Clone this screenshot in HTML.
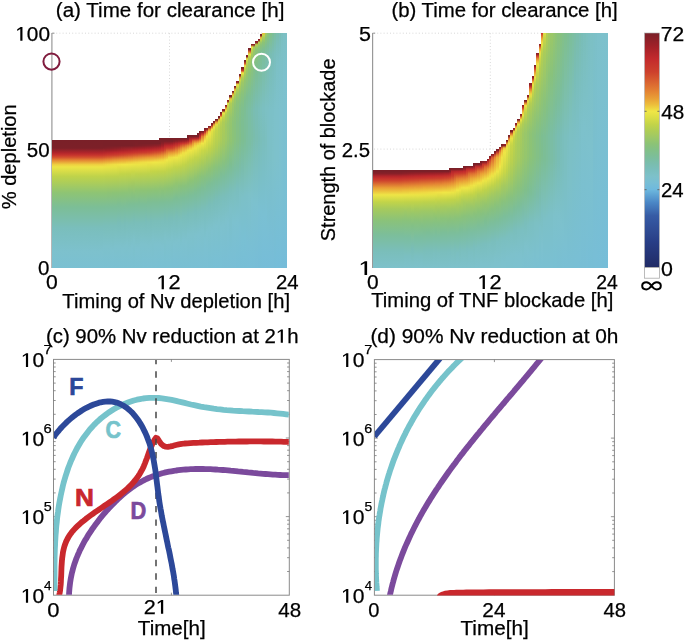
<!DOCTYPE html><html><head><meta charset="utf-8"><style>
html,body{margin:0;padding:0;background:#fff;width:685px;height:641px;overflow:hidden}
#w{position:relative;width:685px;height:641px}
#w i{position:absolute;display:block}
svg{position:absolute;left:0;top:0}
text{font-family:"Liberation Sans",sans-serif}
</style></head><body><div id="w">
<svg width="685" height="641"><line x1="51.9" y1="33" x2="51.9" y2="268" stroke="#999" stroke-width="1.2"/><line x1="372.6" y1="33" x2="372.6" y2="268" stroke="#999" stroke-width="1.2"/><line x1="53" y1="33.2" x2="263" y2="33.2" stroke="#d4d4d4" stroke-width="0.9" stroke-dasharray="1,2.2"/><line x1="169.5" y1="33.2" x2="169.5" y2="137" stroke="#d4d4d4" stroke-width="0.9" stroke-dasharray="1,2.2"/><line x1="374" y1="33.2" x2="542" y2="33.2" stroke="#d4d4d4" stroke-width="0.9" stroke-dasharray="1,2.2"/><line x1="490.3" y1="33.2" x2="490.3" y2="156" stroke="#d4d4d4" stroke-width="0.9" stroke-dasharray="1,2.2"/><line x1="374" y1="149.1" x2="502" y2="149.1" stroke="#d4d4d4" stroke-width="0.9" stroke-dasharray="1,2.2"/><line x1="51.9" y1="33.2" x2="54.5" y2="33.2" stroke="#999" stroke-width="1"/></svg>
<i style="left:52.00px;top:33.0px;width:1.47px;height:235.0px;background:linear-gradient(transparent 106.92px,#7a2028 106.92px,#7c2028 115.15px,#b2252b 119.85px,#c7342d 122.20px,#d4542f 124.55px,#e38033 126.90px,#eed040 131.60px,#ede546 133.95px,#bfd34a 143.35px,#8ec474 159.80px,#7cbe96 173.90px,#7abebc 195.05px,#7dc1cd 218.55px,#7ac0d2 235.00px)"></i><i style="left:53.17px;top:33.0px;width:2.65px;height:235.0px;background:linear-gradient(transparent 106.92px,#7a2028 106.92px,#7c2028 115.15px,#b2252b 119.85px,#c7342d 122.20px,#d4542f 124.55px,#e38033 126.90px,#eed040 131.60px,#ede546 133.95px,#bfd34a 143.35px,#8ec474 159.80px,#7cbe96 173.90px,#7abebc 195.05px,#7dc1cd 218.55px,#7ac0d2 235.00px)"></i><i style="left:55.52px;top:33.0px;width:2.65px;height:235.0px;background:linear-gradient(transparent 106.92px,#7a2028 106.92px,#7c2028 115.15px,#b2252b 119.85px,#c7342d 122.20px,#d4542f 124.55px,#e38033 126.90px,#eed040 131.60px,#ede546 133.95px,#bfd34a 143.35px,#8ec474 159.80px,#7cbe96 173.90px,#7abebc 195.05px,#7dc1cd 218.55px,#7ac0d2 235.00px)"></i><i style="left:57.88px;top:33.0px;width:2.65px;height:235.0px;background:linear-gradient(transparent 106.92px,#7a2028 106.92px,#7c2028 115.15px,#b2252b 119.85px,#c7342d 122.20px,#d4542f 124.55px,#e38033 126.90px,#eed040 131.60px,#ede546 133.95px,#bfd34a 143.35px,#8ec474 159.80px,#7cbe96 173.90px,#7abebc 195.05px,#7dc1cd 218.55px,#7ac0d2 235.00px)"></i><i style="left:60.23px;top:33.0px;width:2.65px;height:235.0px;background:linear-gradient(transparent 106.92px,#7a2028 106.92px,#7c2028 115.15px,#b2252b 119.85px,#c7342d 122.20px,#d4542f 124.55px,#e38033 126.90px,#eed040 131.60px,#ede546 133.95px,#bfd34a 143.35px,#8ec474 159.80px,#7cbe96 173.90px,#7abebc 195.05px,#7dc1cd 218.55px,#7ac0d2 235.00px)"></i><i style="left:62.58px;top:33.0px;width:2.65px;height:235.0px;background:linear-gradient(transparent 106.92px,#7a2028 106.92px,#7c2028 115.15px,#b2252b 119.85px,#c7342d 122.20px,#d4542f 124.55px,#e38033 126.90px,#eed040 131.60px,#ede546 133.95px,#bfd34a 143.35px,#8ec474 159.80px,#7cbe96 173.90px,#7abebc 195.05px,#7dc1cd 218.55px,#7ac0d2 235.00px)"></i><i style="left:64.92px;top:33.0px;width:2.65px;height:235.0px;background:linear-gradient(transparent 106.92px,#7a2028 106.92px,#7c2028 115.15px,#b2252b 119.85px,#c7342d 122.20px,#d4542f 124.55px,#e38033 126.90px,#eed040 131.60px,#ede546 133.95px,#bfd34a 143.35px,#8ec474 159.80px,#7cbe96 173.90px,#7abebc 195.05px,#7dc1cd 218.55px,#7ac0d2 235.00px)"></i><i style="left:67.28px;top:33.0px;width:2.65px;height:235.0px;background:linear-gradient(transparent 106.92px,#7a2028 106.92px,#7c2028 115.15px,#b2252b 119.85px,#c7342d 122.20px,#d4542f 124.55px,#e38033 126.90px,#eed040 131.60px,#ede546 133.95px,#bfd34a 143.35px,#8ec474 159.80px,#7cbe96 173.90px,#7abebc 195.05px,#7dc1cd 218.55px,#7ac0d2 235.00px)"></i><i style="left:69.62px;top:33.0px;width:2.65px;height:235.0px;background:linear-gradient(transparent 106.92px,#7a2028 106.92px,#7c2028 115.15px,#b2252b 119.85px,#c7342d 122.20px,#d4542f 124.55px,#e38033 126.90px,#eed040 131.60px,#ede546 133.95px,#bfd34a 143.35px,#8ec474 159.80px,#7cbe96 173.90px,#7abebc 195.05px,#7dc1cd 218.55px,#7ac0d2 235.00px)"></i><i style="left:71.97px;top:33.0px;width:2.65px;height:235.0px;background:linear-gradient(transparent 106.92px,#7a2028 106.92px,#7c2028 115.15px,#b2252b 119.85px,#c7342d 122.20px,#d4542f 124.55px,#e38033 126.90px,#eed040 131.60px,#ede546 133.95px,#bfd34a 143.35px,#8ec474 159.80px,#7cbe96 173.90px,#7abebc 195.05px,#7dc1cd 218.55px,#7ac0d2 235.00px)"></i><i style="left:74.33px;top:33.0px;width:2.65px;height:235.0px;background:linear-gradient(transparent 106.92px,#7a2028 106.92px,#7c2028 115.15px,#b2252b 119.85px,#c7342d 122.20px,#d4542f 124.55px,#e38033 126.90px,#eed040 131.60px,#ede546 133.95px,#bfd34a 143.35px,#8ec474 159.80px,#7cbe96 173.90px,#7abebc 195.05px,#7dc1cd 218.55px,#7ac0d2 235.00px)"></i><i style="left:76.67px;top:33.0px;width:2.65px;height:235.0px;background:linear-gradient(transparent 106.92px,#7a2028 106.92px,#7c2028 115.15px,#b2252b 119.85px,#c7342d 122.20px,#d4542f 124.55px,#e38033 126.90px,#eed040 131.60px,#ede546 133.95px,#bfd34a 143.35px,#8ec474 159.80px,#7cbe96 173.90px,#7abebc 195.05px,#7dc1cd 218.55px,#7ac0d2 235.00px)"></i><i style="left:79.03px;top:33.0px;width:2.65px;height:235.0px;background:linear-gradient(transparent 106.92px,#7a2028 106.92px,#7c2028 115.15px,#b2252b 119.85px,#c7342d 122.20px,#d4542f 124.55px,#e38033 126.90px,#eed040 131.60px,#ede546 133.95px,#bfd34a 143.35px,#8ec474 159.80px,#7cbe96 173.90px,#7abebc 195.05px,#7dc1cd 218.55px,#7ac0d2 235.00px)"></i><i style="left:81.38px;top:33.0px;width:2.65px;height:235.0px;background:linear-gradient(transparent 106.92px,#7a2028 106.92px,#7c2028 115.15px,#b2252b 119.85px,#c7342d 122.20px,#d4542f 124.55px,#e38033 126.90px,#eed040 131.60px,#ede546 133.95px,#bfd34a 143.35px,#8ec474 159.80px,#7cbe96 173.90px,#7abebc 195.05px,#7dc1cd 218.55px,#7ac0d2 235.00px)"></i><i style="left:83.72px;top:33.0px;width:2.65px;height:235.0px;background:linear-gradient(transparent 106.92px,#7a2028 106.92px,#7c2028 115.15px,#b2252b 119.85px,#c7342d 122.20px,#d4542f 124.55px,#e38033 126.90px,#eed040 131.60px,#ede546 133.95px,#bfd34a 143.35px,#8ec474 159.80px,#7cbe96 173.90px,#7abebc 195.05px,#7dc1cd 218.55px,#7ac0d2 235.00px)"></i><i style="left:86.08px;top:33.0px;width:2.65px;height:235.0px;background:linear-gradient(transparent 106.92px,#7a2028 106.92px,#7c2028 115.15px,#b2252b 119.85px,#c7342d 122.20px,#d4542f 124.55px,#e38033 126.90px,#eed040 131.60px,#ede546 133.95px,#bfd34a 143.35px,#8ec474 159.80px,#7cbe96 173.90px,#7abebc 195.05px,#7dc1cd 218.55px,#7ac0d2 235.00px)"></i><i style="left:88.43px;top:33.0px;width:2.65px;height:235.0px;background:linear-gradient(transparent 106.92px,#7a2028 106.92px,#7c2028 115.15px,#b2252b 119.85px,#c7342d 122.20px,#d4542f 124.55px,#e38033 126.90px,#eed040 131.60px,#ede546 133.95px,#bfd34a 143.35px,#8ec474 159.80px,#7cbe96 173.90px,#7abebc 195.05px,#7dc1cd 218.55px,#7ac0d2 235.00px)"></i><i style="left:90.78px;top:33.0px;width:2.65px;height:235.0px;background:linear-gradient(transparent 106.92px,#7a2028 106.92px,#7c2028 115.15px,#b2252b 119.85px,#c7342d 122.20px,#d4542f 124.55px,#e38033 126.90px,#eed040 131.60px,#ede546 133.95px,#bfd34a 143.35px,#8ec474 159.80px,#7cbe96 173.90px,#7abebc 195.05px,#7dc1cd 218.55px,#7ac0d2 235.00px)"></i><i style="left:93.12px;top:33.0px;width:2.65px;height:235.0px;background:linear-gradient(transparent 106.92px,#7a2028 106.92px,#7c2028 115.15px,#b2252b 119.85px,#c7342d 122.20px,#d4542f 124.55px,#e38033 126.90px,#eed040 131.60px,#ede546 133.95px,#bfd34a 143.35px,#8ec474 159.80px,#7cbe96 173.90px,#7abebc 195.05px,#7dc1cd 218.55px,#7ac0d2 235.00px)"></i><i style="left:95.47px;top:33.0px;width:2.65px;height:235.0px;background:linear-gradient(transparent 106.92px,#7a2028 106.92px,#7c2028 115.15px,#b2252b 119.85px,#c7342d 122.20px,#d4542f 124.55px,#e38033 126.90px,#eed040 131.60px,#ede546 133.95px,#bfd34a 143.35px,#8ec474 159.80px,#7cbe96 173.90px,#7abebc 195.05px,#7dc1cd 218.55px,#7ac0d2 235.00px)"></i><i style="left:97.83px;top:33.0px;width:2.65px;height:235.0px;background:linear-gradient(transparent 106.92px,#7a2028 106.92px,#7c2028 115.15px,#b2252b 119.85px,#c7342d 122.20px,#d4542f 124.55px,#e38033 126.90px,#eed040 131.60px,#ede546 133.95px,#bfd34a 143.35px,#8ec474 159.80px,#7cbe96 173.90px,#7abebc 195.05px,#7dc1cd 218.55px,#7ac0d2 235.00px)"></i><i style="left:100.18px;top:33.0px;width:2.65px;height:235.0px;background:linear-gradient(transparent 106.92px,#7a2028 106.92px,#7d2028 115.15px,#b3252b 119.85px,#c7342d 122.20px,#d4552f 124.55px,#e38133 126.90px,#eed041 131.60px,#ede546 133.95px,#bfd34a 143.35px,#8ec474 159.80px,#7cbe96 173.90px,#7abebc 195.05px,#7dc1cd 218.55px,#7ac0d2 235.00px)"></i><i style="left:102.53px;top:33.0px;width:2.65px;height:235.0px;background:linear-gradient(transparent 106.92px,#7a2028 106.92px,#7a2028 112.80px,#7f2028 115.15px,#b6262b 119.85px,#c8362d 122.20px,#d5582f 124.55px,#e48533 126.90px,#eed341 131.60px,#ece445 133.95px,#bfd34b 143.35px,#8ec474 159.80px,#7cbe96 173.90px,#7abeb9 192.70px,#7dc1cb 213.85px,#7ac0d2 235.00px)"></i><i style="left:104.88px;top:33.0px;width:2.65px;height:235.0px;background:linear-gradient(transparent 106.92px,#7a2028 106.92px,#7a2028 112.80px,#812028 115.15px,#9b2028 117.50px,#b8272b 119.85px,#c9382d 122.20px,#d75c2f 124.55px,#e48934 126.90px,#efd642 131.60px,#ebe445 133.95px,#bed24b 143.35px,#8ec474 159.80px,#7cbe97 173.90px,#7abeb9 192.70px,#7dc1cb 213.85px,#7ac0d2 235.00px)"></i><i style="left:107.22px;top:33.0px;width:2.65px;height:235.0px;background:linear-gradient(transparent 106.92px,#7a2028 106.92px,#7a2028 112.80px,#832028 115.15px,#9d2028 117.50px,#ba282c 119.85px,#ca3a2d 122.20px,#d85f30 124.55px,#e58c34 126.90px,#efd943 131.60px,#eae445 133.95px,#bed24b 143.35px,#8dc375 159.80px,#7cbe97 173.90px,#7abeb9 192.70px,#7dc1cb 213.85px,#7ac0d2 235.00px)"></i><i style="left:109.58px;top:33.0px;width:2.65px;height:235.0px;background:linear-gradient(transparent 106.92px,#7a2028 106.92px,#7a2028 112.80px,#852028 115.15px,#9f2028 117.50px,#bd282c 119.85px,#cb3c2d 122.20px,#d96330 124.55px,#e69034 126.90px,#efdc44 131.60px,#e9e345 133.95px,#bdd24c 143.35px,#8dc375 159.80px,#7cbe98 173.90px,#7abeba 192.70px,#7dc1cd 216.20px,#7ac0d2 235.00px)"></i><i style="left:111.93px;top:33.0px;width:2.65px;height:235.0px;background:linear-gradient(transparent 106.92px,#7a2028 106.92px,#7a2028 112.80px,#872028 115.15px,#a12028 117.50px,#bf292c 119.85px,#cb3d2d 122.20px,#e79435 126.90px,#efde44 131.60px,#e8e345 133.95px,#bdd24c 143.35px,#8cc376 159.80px,#7cbe98 173.90px,#7abeba 192.70px,#7dc1ce 218.55px,#7ac0d2 235.00px)"></i><i style="left:114.28px;top:33.0px;width:2.65px;height:235.0px;background:linear-gradient(transparent 106.92px,#7a2028 106.92px,#7a2028 112.80px,#892028 115.15px,#a32128 117.50px,#c22a2d 119.85px,#cc3f2d 122.20px,#e79835 126.90px,#efe044 131.60px,#e8e345 133.95px,#bcd24c 143.35px,#8cc376 159.80px,#7cbe98 173.90px,#7abeba 192.70px,#7dc1cc 213.85px,#7ac0d2 235.00px)"></i><i style="left:116.62px;top:33.0px;width:2.65px;height:235.0px;background:linear-gradient(transparent 106.92px,#7a2028 106.92px,#7a2028 112.80px,#8b2028 115.15px,#a62229 117.50px,#c32b2d 119.85px,#cd412d 122.20px,#e89b36 126.90px,#f0e145 131.60px,#dbde45 136.30px,#bcd14d 143.35px,#8cc376 159.80px,#7dbe94 171.55px,#79bdb8 190.35px,#7dc1cc 213.85px,#7ac0d2 235.00px)"></i><i style="left:118.98px;top:33.0px;width:2.65px;height:235.0px;background:linear-gradient(transparent 106.92px,#7a2028 106.92px,#7a2028 112.80px,#8d2028 115.15px,#a82229 117.50px,#c42d2d 119.85px,#ce452d 122.20px,#e99e36 126.90px,#f0e345 131.60px,#c3d448 141.00px,#8cc377 159.80px,#7dbe94 171.55px,#79bdb8 190.35px,#7dc1cc 213.85px,#7ac0d2 235.00px)"></i><i style="left:121.33px;top:33.0px;width:2.65px;height:235.0px;background:linear-gradient(transparent 106.92px,#7a2028 106.92px,#7a2028 112.80px,#aa2329 117.50px,#c52e2d 119.85px,#d0482e 122.20px,#e9a036 126.90px,#f0e546 131.60px,#c2d448 141.00px,#8bc377 159.80px,#7cbe99 173.90px,#7abebb 192.70px,#7dc1cd 216.20px,#7ac0d2 235.00px)"></i><i style="left:123.67px;top:33.0px;width:2.65px;height:235.0px;background:linear-gradient(transparent 106.92px,#7a2028 106.92px,#7a2028 112.80px,#ad242a 117.50px,#c6302d 119.85px,#d14c2e 122.20px,#e17732 124.55px,#e9a236 126.90px,#f0e646 131.60px,#c2d449 141.00px,#8bc378 159.80px,#7cbe9a 173.90px,#79bdb8 190.35px,#7dc1cc 213.85px,#7ac0d2 235.00px)"></i><i style="left:126.03px;top:33.0px;width:2.65px;height:235.0px;background:linear-gradient(transparent 106.92px,#7a2028 106.92px,#7a2028 112.80px,#af242a 117.50px,#c6322d 119.85px,#d24f2e 122.20px,#eaa436 126.90px,#eec93f 129.25px,#efe646 131.60px,#c1d349 141.00px,#8bc378 159.80px,#7dbe95 171.55px,#7abeb9 190.35px,#7dc1cb 211.50px,#7ac0d2 235.00px)"></i><i style="left:128.38px;top:33.0px;width:2.65px;height:235.0px;background:linear-gradient(transparent 106.92px,#7a2028 106.92px,#7a2028 112.80px,#b2252b 117.50px,#c7332d 119.85px,#d3532f 122.20px,#e27e33 124.55px,#eecc40 129.25px,#eee546 131.60px,#c1d349 141.00px,#8fc473 157.45px,#7cbe96 171.55px,#7abebc 192.70px,#7dc1cd 216.20px,#7ac0d2 235.00px)"></i><i style="left:130.73px;top:33.0px;width:2.65px;height:235.0px;background:linear-gradient(transparent 106.92px,#7a2028 106.92px,#7a2028 112.80px,#b4262b 117.50px,#c8352d 119.85px,#d5562f 122.20px,#eba837 126.90px,#eecf40 129.25px,#ede546 131.60px,#cad747 138.65px,#a3c961 150.40px,#8ac279 159.80px,#7cbe96 171.55px,#7abeb9 190.35px,#7dc1cd 213.85px,#7ac0d2 235.00px)"></i><i style="left:133.07px;top:33.0px;width:2.65px;height:235.0px;background:linear-gradient(transparent 106.92px,#7a2028 106.92px,#7c2028 112.80px,#992028 115.15px,#b7272b 117.50px,#c9372d 119.85px,#d65a2f 122.20px,#e48633 124.55px,#eed241 129.25px,#ece546 131.60px,#cad747 138.65px,#a2c961 150.40px,#87c17f 162.15px,#7cbe96 171.55px,#79bdb6 188.00px,#7dc1c9 206.80px,#7ac0d2 235.00px)"></i><i style="left:135.43px;top:33.0px;width:2.65px;height:235.0px;background:linear-gradient(transparent 106.92px,#7a2028 106.92px,#7e2028 112.80px,#9b2028 115.15px,#b9272c 117.50px,#ca392d 119.85px,#d75d30 122.20px,#e48934 124.55px,#efd542 129.25px,#ebe445 131.60px,#bfd34b 141.00px,#8ec474 157.45px,#7cbe97 171.55px,#7abeba 190.35px,#7dc1ce 216.20px,#7ac0d2 235.00px)"></i><i style="left:137.78px;top:33.0px;width:2.65px;height:235.0px;background:linear-gradient(transparent 106.92px,#7a2028 106.92px,#7a2028 110.45px,#802028 112.80px,#9d2028 115.15px,#bc282c 117.50px,#ca3b2d 119.85px,#e58d34 124.55px,#efd843 129.25px,#ebe445 131.60px,#bfd24b 141.00px,#8ec474 157.45px,#7dbe92 169.20px,#7abeba 190.35px,#7dc1ce 216.20px,#7ac0d2 235.00px)"></i><i style="left:140.12px;top:33.0px;width:2.65px;height:235.0px;background:linear-gradient(transparent 106.92px,#7a2028 106.92px,#7a2028 110.45px,#812028 112.80px,#9f2028 115.15px,#be292c 117.50px,#cb3d2d 119.85px,#e69135 124.55px,#efdb43 129.25px,#eae445 131.60px,#bed24b 141.00px,#8dc375 157.45px,#7cbe98 171.55px,#7abeba 190.35px,#7dc1cc 211.50px,#7ac0d2 235.00px)"></i><i style="left:142.48px;top:33.0px;width:2.65px;height:235.0px;background:linear-gradient(transparent 106.92px,#7a2028 106.92px,#7a2028 110.45px,#832028 112.80px,#a12028 115.15px,#c1292d 117.50px,#cc3f2d 119.85px,#e79535 124.55px,#efdd44 129.25px,#e9e345 131.60px,#bed24c 141.00px,#8dc375 157.45px,#7cbe98 171.55px,#7abeba 190.35px,#7dc1cc 211.50px,#7ac0d3 235.00px)"></i><i style="left:144.82px;top:33.0px;width:2.65px;height:235.0px;background:linear-gradient(transparent 106.92px,#7a2028 106.92px,#7a2028 110.45px,#852028 112.80px,#a32128 115.15px,#c32a2d 117.50px,#cd402d 119.85px,#e89935 124.55px,#efdf44 129.25px,#e8e345 131.60px,#bdd24c 141.00px,#8dc375 157.45px,#7cbe98 171.55px,#79bdb8 188.00px,#7dc1cc 211.50px,#7ac0d3 235.00px)"></i><i style="left:147.18px;top:33.0px;width:2.65px;height:235.0px;background:linear-gradient(transparent 106.92px,#7a2028 106.92px,#7a2028 110.45px,#872028 112.80px,#a52129 115.15px,#c42c2d 117.50px,#ce442d 119.85px,#de6e31 122.20px,#e89c36 124.55px,#f0e145 129.25px,#dcde45 133.95px,#bcd24c 141.00px,#8cc376 157.45px,#7dbe94 169.20px,#7abebb 190.35px,#7dc1cd 213.85px,#7ac0d3 235.00px)"></i><i style="left:149.53px;top:33.0px;width:2.65px;height:235.0px;background:linear-gradient(transparent 106.92px,#7a2028 106.92px,#7a2028 110.45px,#892028 112.80px,#a82229 115.15px,#c42d2d 117.50px,#cf472e 119.85px,#df7231 122.20px,#e99f36 124.55px,#f0e345 129.25px,#c4d448 138.65px,#8cc376 157.45px,#7dbe94 169.20px,#79bdb8 188.00px,#7dc1cc 211.50px,#7ac0d3 235.00px)"></i><i style="left:151.88px;top:33.0px;width:2.65px;height:235.0px;background:linear-gradient(transparent 106.92px,#7a2028 106.92px,#7a2028 110.45px,#8b2028 112.80px,#ab232a 115.15px,#c5302d 117.50px,#d14c2e 119.85px,#e07632 122.20px,#e9a136 124.55px,#f0e546 129.25px,#c3d448 138.65px,#8cc377 157.45px,#7dbe95 169.20px,#7abeb8 188.00px,#7dc1ca 206.80px,#7ac0d3 235.00px)"></i><i style="left:154.23px;top:33.0px;width:2.65px;height:235.0px;background:linear-gradient(transparent 106.92px,#7a2028 106.92px,#7a2028 110.45px,#8e2028 112.80px,#ae242a 115.15px,#c6322d 117.50px,#d3512e 119.85px,#e27b32 122.20px,#eec83f 126.90px,#efe646 129.25px,#c2d448 138.65px,#8bc377 157.45px,#7dbe95 169.20px,#7abeb9 188.00px,#7dc1cd 211.50px,#7ac0d3 235.00px)"></i><i style="left:156.57px;top:33.0px;width:2.65px;height:235.0px;background:linear-gradient(transparent 106.92px,#7a2028 106.92px,#7a2028 110.45px,#902028 112.80px,#b1252a 115.15px,#c8352d 117.50px,#d4562f 119.85px,#e38133 122.20px,#eecc40 126.90px,#eee546 129.25px,#c1d349 138.65px,#8bc378 157.45px,#7dbe95 169.20px,#7abeb9 188.00px,#7dc1cd 211.50px,#79c0d3 235.00px)"></i><i style="left:158.93px;top:33.0px;width:2.65px;height:235.0px;background:linear-gradient(transparent 104.58px,#7a2028 104.58px,#7a2028 110.45px,#942028 112.80px,#b5262b 115.15px,#c9372d 117.50px,#d65a2f 119.85px,#e48633 122.20px,#ebaa37 124.55px,#eed141 126.90px,#ede546 129.25px,#c1d34a 138.65px,#90c473 155.10px,#7cbe96 169.20px,#7abeb9 188.00px,#7dc1cd 211.50px,#79c0d3 235.00px)"></i><i style="left:161.28px;top:33.0px;width:2.65px;height:235.0px;background:linear-gradient(transparent 104.58px,#7a2028 104.58px,#7a2028 108.10px,#8a2028 110.45px,#a22128 112.80px,#c0292d 115.15px,#cb3d2d 117.50px,#e58e34 122.20px,#ebb038 124.55px,#efd642 126.90px,#ece445 129.25px,#c0d34a 138.65px,#8ac279 157.45px,#7cbe96 169.20px,#7abeba 188.00px,#7dc1ce 213.85px,#79c0d3 235.00px)"></i><i style="left:163.62px;top:33.0px;width:2.65px;height:235.0px;background:linear-gradient(transparent 104.58px,#7a2028 104.58px,#7a2028 108.10px,#992028 110.45px,#b9272c 112.80px,#c7342d 115.15px,#d14d2e 117.50px,#e89d36 122.20px,#efde44 126.90px,#e9e345 129.25px,#bfd24b 138.65px,#8ec474 155.10px,#7cbe97 169.20px,#79bdb7 185.65px,#7dc1c9 204.45px,#79c0d3 235.00px)"></i><i style="left:165.98px;top:33.0px;width:2.65px;height:235.0px;background:linear-gradient(transparent 104.58px,#7a2028 104.58px,#7a2028 108.10px,#9a2028 110.45px,#bd282c 112.80px,#cb3d2d 115.15px,#db6730 117.50px,#eba837 122.20px,#f0e646 126.90px,#c5d548 136.30px,#8dc375 155.10px,#7cbe98 169.20px,#7abeba 188.00px,#7dc1cc 209.15px,#79c0d3 235.00px)"></i><i style="left:168.32px;top:33.0px;width:2.65px;height:235.0px;background:linear-gradient(transparent 104.58px,#7a2028 104.58px,#7a2028 108.10px,#9b2028 110.45px,#be292c 112.80px,#cc3e2d 115.15px,#e79735 119.85px,#efdd44 124.55px,#ebe445 126.90px,#c2d449 136.30px,#8cc376 155.10px,#7cbe98 169.20px,#79bdb8 185.65px,#7dc1cc 209.15px,#79c0d3 235.00px)"></i><i style="left:170.68px;top:33.0px;width:2.65px;height:235.0px;background:linear-gradient(transparent 104.58px,#7a2028 104.58px,#7a2028 108.10px,#9f2028 110.45px,#c22a2d 112.80px,#cd412d 115.15px,#e89a35 119.85px,#efdf44 124.55px,#e8e345 126.90px,#bfd34b 136.30px,#8bc377 155.10px,#7cbe99 169.20px,#79bdb8 185.65px,#7dc1ca 204.45px,#79bfd3 235.00px)"></i><i style="left:173.03px;top:33.0px;width:2.65px;height:235.0px;background:linear-gradient(transparent 104.58px,#7a2028 104.58px,#802028 108.10px,#a92329 110.45px,#c6312d 112.80px,#d14d2e 115.15px,#e07632 117.50px,#e9a136 119.85px,#f0e345 124.55px,#c4d548 133.95px,#8fc474 152.75px,#7cbe96 166.85px,#7abebc 188.00px,#7dc1ce 211.50px,#79bfd3 235.00px)"></i><i style="left:175.38px;top:33.0px;width:2.65px;height:235.0px;background:linear-gradient(transparent 104.58px,#7a2028 104.58px,#7a2028 105.75px,#872028 108.10px,#b4262b 110.45px,#ca3a2d 112.80px,#e48834 117.50px,#eba937 119.85px,#eecd40 122.20px,#efe546 124.55px,#c3d448 133.95px,#92c570 150.40px,#7dbe92 164.50px,#79bdb7 183.30px,#7dc1cd 209.15px,#79bfd3 235.00px)"></i><i style="left:177.73px;top:33.0px;width:2.65px;height:235.0px;background:linear-gradient(transparent 104.58px,#7a2028 104.58px,#7a2028 105.75px,#8e2028 108.10px,#bf292c 110.45px,#cf462d 112.80px,#e99e36 117.50px,#ecba3b 119.85px,#efdd44 122.20px,#eae445 124.55px,#c1d34a 133.95px,#8bc378 152.75px,#7cbe98 166.85px,#7abeba 185.65px,#7dc1cc 206.80px,#79bfd3 235.00px)"></i><i style="left:180.08px;top:33.0px;width:2.65px;height:235.0px;background:linear-gradient(transparent 104.58px,#7a2028 104.58px,#7a2028 105.75px,#952028 108.10px,#c52f2d 110.45px,#e48834 115.15px,#eecd40 119.85px,#efe646 122.20px,#bed24b 133.95px,#8ac279 152.75px,#7dbe96 164.50px,#7bbfbe 188.00px,#7cc1cf 213.85px,#79bfd3 235.00px)"></i><i style="left:182.43px;top:33.0px;width:2.65px;height:235.0px;background:linear-gradient(transparent 104.58px,#7a2028 104.58px,#7a2028 105.75px,#9c2028 108.10px,#c9372d 110.45px,#e99e36 115.15px,#efdf44 119.85px,#eae345 122.20px,#c2d449 131.60px,#89c27b 152.75px,#7cbe97 164.50px,#7abeb9 183.30px,#7dc1cd 206.80px,#79bfd3 235.00px)"></i><i style="left:184.78px;top:33.0px;width:2.65px;height:235.0px;background:linear-gradient(transparent 104.58px,#7a2028 104.58px,#7a2028 105.75px,#a32128 108.10px,#cc3f2d 110.45px,#e27d32 112.80px,#eecf40 117.50px,#eee546 119.85px,#bed24b 131.60px,#88c27d 152.75px,#7cbe99 164.50px,#7abeba 183.30px,#7dc1ce 209.15px,#79bfd3 235.00px)"></i><i style="left:187.12px;top:33.0px;width:2.65px;height:235.0px;background:linear-gradient(transparent 102.23px,#7a2028 102.23px,#7a2028 105.75px,#af242a 108.10px,#d14d2e 110.45px,#e69135 112.80px,#efe044 117.50px,#e9e345 119.85px,#c1d349 129.25px,#8ac279 150.40px,#7dbe95 162.15px,#79bdb8 180.95px,#7dc1cb 202.10px,#79bfd3 235.00px)"></i><i style="left:189.47px;top:33.0px;width:2.65px;height:235.0px;background:linear-gradient(transparent 102.23px,#7a2028 102.23px,#7a2028 103.40px,#b2252b 105.75px,#c9372d 108.10px,#dc6a31 110.45px,#e9a236 112.80px,#eecc3f 115.15px,#eee546 117.50px,#c4d548 126.90px,#8cc376 148.05px,#7cbe97 162.15px,#7abeb9 180.95px,#7dc1cb 202.10px,#79bfd4 235.00px)"></i><i style="left:191.83px;top:33.0px;width:2.65px;height:235.0px;background:linear-gradient(transparent 102.23px,#7a2028 102.23px,#7a2028 103.40px,#b9272c 105.75px,#db6831 108.10px,#e79735 110.45px,#efde44 115.15px,#e9e345 117.50px,#c0d34a 126.90px,#8bc378 148.05px,#7cbe99 162.15px,#7abeba 180.95px,#7dc1ca 199.75px,#79bfd4 235.00px)"></i><i style="left:194.18px;top:33.0px;width:2.65px;height:235.0px;background:linear-gradient(transparent 102.23px,#7a2028 102.23px,#7a2028 103.40px,#c0292d 105.75px,#e07532 108.10px,#ecb73a 110.45px,#efd842 112.80px,#ede546 115.15px,#c3d448 124.55px,#8cc376 145.70px,#7cbe96 159.80px,#79bdb8 178.60px,#7dc1cc 202.10px,#79bfd4 235.00px)"></i><i style="left:196.53px;top:33.0px;width:2.65px;height:235.0px;background:linear-gradient(transparent 99.88px,#7a2028 99.88px,#7a2028 103.40px,#c42d2d 105.75px,#e38333 108.10px,#edc53e 110.45px,#ece546 112.80px,#c0d34a 124.55px,#8ec374 143.35px,#7dbe94 157.45px,#7abeb9 178.60px,#7dc1cd 202.10px,#79bfd4 235.00px)"></i><i style="left:198.88px;top:33.0px;width:2.65px;height:235.0px;background:linear-gradient(transparent 97.53px,#7a2028 97.53px,#7a2028 98.70px,#9c2028 101.05px,#c0292d 103.40px,#d3522f 105.75px,#e99f36 108.10px,#efd542 110.45px,#e8e345 112.80px,#d3da46 117.50px,#b5cf51 126.90px,#8bc377 143.35px,#7cbe96 157.45px,#7abeba 178.60px,#7dc1cc 199.75px,#79bfd4 235.00px)"></i><i style="left:201.22px;top:33.0px;width:2.65px;height:235.0px;background:linear-gradient(transparent 97.53px,#7a2028 97.53px,#7a2028 98.70px,#c7332d 101.05px,#e17832 103.40px,#efe646 110.45px,#cad747 117.50px,#aacc59 129.25px,#89c27b 143.35px,#7dbe95 155.10px,#7abeb9 176.25px,#7dc1cb 197.40px,#79bfd4 235.00px)"></i><i style="left:203.58px;top:33.0px;width:2.65px;height:235.0px;background:linear-gradient(transparent 95.17px,#7a2028 95.17px,#7a2028 96.35px,#bb282c 98.70px,#e07532 101.05px,#ecb239 103.40px,#eed141 105.75px,#f0e646 108.10px,#c5d548 117.50px,#9bc768 133.95px,#84c084 145.70px,#7bbea0 159.80px,#7abebd 178.60px,#7cc1cf 206.80px,#79bfd4 235.00px)"></i><i style="left:205.93px;top:33.0px;width:2.65px;height:235.0px;background:linear-gradient(transparent 95.17px,#8d2028 95.17px,#8d2028 96.35px,#e38033 98.70px,#ecba3b 101.05px,#f0e245 103.40px,#d2da46 112.80px,#accc57 124.55px,#89c27c 141.00px,#7cbe96 152.75px,#7abeb9 173.90px,#7dc1cd 199.75px,#79bfd4 235.00px)"></i><i style="left:208.28px;top:33.0px;width:2.65px;height:235.0px;background:linear-gradient(transparent 92.83px,#8d2028 92.83px,#8d2028 94.00px,#e38333 96.35px,#efd943 98.70px,#ece445 101.05px,#c1d349 115.15px,#8ec374 136.30px,#7dbe94 150.40px,#79bdb8 171.55px,#7dc1cb 195.05px,#78bfd4 235.00px)"></i><i style="left:210.62px;top:33.0px;width:2.65px;height:235.0px;background:linear-gradient(transparent 90.48px,#832028 90.48px,#832028 91.65px,#df7332 94.00px,#f0e145 96.35px,#e1e044 98.70px,#bbd14d 115.15px,#8fc473 133.95px,#7cbe97 150.40px,#7abeb9 171.55px,#7dc1cd 197.40px,#78bfd4 235.00px)"></i><i style="left:212.97px;top:33.0px;width:2.65px;height:235.0px;background:linear-gradient(transparent 88.12px,#7a2028 88.12px,#7a2028 89.30px,#e79535 91.65px,#ebe445 94.00px,#cfd946 98.70px,#b5cf51 115.15px,#8bc377 133.95px,#7dbe95 148.05px,#79bdb8 169.20px,#7dc1cb 192.70px,#78bfd5 235.00px)"></i><i style="left:215.33px;top:33.0px;width:2.65px;height:235.0px;background:linear-gradient(transparent 85.78px,#7a2028 85.78px,#7a2028 86.95px,#e9a136 89.30px,#e1e044 91.65px,#cfd946 94.00px,#c5d548 96.35px,#b2ce53 112.80px,#89c27c 133.95px,#7cbe98 148.05px,#79bdb8 166.85px,#7dc1cc 192.70px,#78bfd5 235.00px)"></i><i style="left:217.68px;top:33.0px;width:2.65px;height:235.0px;background:linear-gradient(transparent 83.42px,#7b2028 83.42px,#7b2028 84.60px,#edbd3c 86.95px,#d7dc45 89.30px,#c3d448 91.65px,#b9d14e 96.35px,#b5cf51 105.75px,#9bc768 122.20px,#86c180 133.95px,#7cbe9b 148.05px,#79bdb7 164.50px,#7dc1ca 188.00px,#78bfd5 235.00px)"></i><i style="left:220.03px;top:33.0px;width:2.65px;height:235.0px;background:linear-gradient(transparent 78.73px,#7a2028 78.73px,#7a2028 79.90px,#cd402d 82.25px,#efdb43 84.60px,#cdd847 86.95px,#bcd14d 89.30px,#b1ce54 94.00px,#adcc57 105.75px,#91c571 124.55px,#7dbe93 141.00px,#7abeb9 164.50px,#7dc1ce 195.05px,#78bfd5 235.00px)"></i><i style="left:222.38px;top:33.0px;width:2.65px;height:235.0px;background:linear-gradient(transparent 76.38px,#852028 76.38px,#852028 77.55px,#efe646 79.90px,#d2da46 82.25px,#c0d34a 84.60px,#adcc57 89.30px,#aacb5a 96.35px,#a1c962 110.45px,#85c183 131.60px,#7cbe9a 143.35px,#7abebb 164.50px,#7dc1cd 192.70px,#78bed5 235.00px)"></i><i style="left:224.72px;top:33.0px;width:2.65px;height:235.0px;background:linear-gradient(transparent 71.67px,#8d2028 71.67px,#8d2028 72.85px,#e9a036 75.20px,#e5e245 77.55px,#bed24b 79.90px,#b2ce53 82.25px,#a0c963 91.65px,#9fc964 105.75px,#87c17f 126.90px,#7cbe9a 141.00px,#7abeba 162.15px,#7dc1cc 188.00px,#78bed5 235.00px)"></i><i style="left:227.08px;top:33.0px;width:2.65px;height:235.0px;background:linear-gradient(transparent 66.98px,#8d2028 66.98px,#8d2028 68.15px,#e0df44 70.50px,#c8d647 72.85px,#a9cb5a 79.90px,#99c76a 91.65px,#98c66b 105.75px,#86c180 124.55px,#7cbe99 138.65px,#7abebc 162.15px,#7dc1ce 190.35px,#78bed5 235.00px)"></i><i style="left:229.43px;top:33.0px;width:2.65px;height:235.0px;background:linear-gradient(transparent 62.28px,#7a2028 62.28px,#7a2028 63.45px,#edc43d 65.80px,#c8d647 68.15px,#afcd55 70.50px,#96c66d 84.60px,#93c56f 94.00px,#90c472 108.10px,#7dbe91 131.60px,#7abeb9 157.45px,#7cc0c8 176.25px,#79bfd4 223.25px,#78bed5 235.00px)"></i><i style="left:231.78px;top:33.0px;width:2.65px;height:235.0px;background:linear-gradient(transparent 57.58px,#7a2028 57.58px,#7a2028 58.75px,#ebaa37 61.10px,#cbd747 63.45px,#b1ce54 65.80px,#9dc866 70.50px,#8bc378 89.30px,#8bc378 108.10px,#7cbe9d 136.30px,#7bbfbd 159.80px,#7cc1ce 188.00px,#78bed6 235.00px)"></i><i style="left:234.12px;top:33.0px;width:2.65px;height:235.0px;background:linear-gradient(transparent 52.88px,#7a2028 52.88px,#7a2028 54.05px,#ebac37 56.40px,#cdd847 58.75px,#b2ce53 61.10px,#9bc768 65.80px,#8dc375 75.20px,#88c27d 91.65px,#88c27d 105.75px,#7bbea1 136.30px,#7bbfbf 159.80px,#7cc1cf 190.35px,#78bed6 235.00px)"></i><i style="left:236.47px;top:33.0px;width:2.65px;height:235.0px;background:linear-gradient(transparent 48.18px,#8d2028 48.18px,#8d2028 49.35px,#f0e245 51.70px,#c9d747 54.05px,#b2ce53 56.40px,#9bc768 61.10px,#8bc377 68.15px,#84c085 89.30px,#84c085 108.10px,#7bbea1 133.95px,#7abebd 155.10px,#7cc1cf 188.00px,#77bed6 235.00px)"></i><i style="left:238.83px;top:33.0px;width:2.65px;height:235.0px;background:linear-gradient(transparent 41.12px,#7a2028 41.12px,#7a2028 42.30px,#e89c36 44.65px,#d2da46 47.00px,#bad14e 49.35px,#a3ca60 54.05px,#8fc473 61.10px,#84c085 72.85px,#80bf8b 89.30px,#81bf8a 105.75px,#7bbda6 133.95px,#7cc0c3 159.80px,#7bc0d1 195.05px,#77bed6 235.00px)"></i><i style="left:241.18px;top:33.0px;width:2.65px;height:235.0px;background:linear-gradient(transparent 34.08px,#7a2028 34.08px,#7a2028 35.25px,#cc3f2d 37.60px,#f0e646 39.95px,#ccd747 42.30px,#b3ce53 44.65px,#9dc866 49.35px,#89c27c 61.10px,#7fbf8e 75.20px,#7dbe92 89.30px,#7dbe92 108.10px,#7abdad 136.30px,#7cc0c7 164.50px,#79c0d3 206.80px,#77bed6 235.00px)"></i><i style="left:243.53px;top:33.0px;width:2.65px;height:235.0px;background:linear-gradient(transparent 27.03px,#7a2028 27.03px,#7a2028 28.20px,#d5562f 30.55px,#ebe445 32.90px,#c8d647 35.25px,#b6d050 37.60px,#94c56e 47.00px,#7dbe90 68.15px,#7cbe98 86.95px,#7cbe97 108.10px,#7cc0c7 162.15px,#79c0d3 204.45px,#77bed6 235.00px)"></i><i style="left:245.88px;top:33.0px;width:2.65px;height:235.0px;background:linear-gradient(transparent 22.32px,#802028 22.32px,#802028 23.50px,#efde44 25.85px,#c4d448 28.20px,#a9cb5b 32.90px,#92c571 42.30px,#7dbe91 63.45px,#7cbe9d 77.55px,#7cbe9b 94.00px,#7bbea1 115.15px,#7cc0c8 162.15px,#79bfd4 211.50px,#77bed6 235.00px)"></i><i style="left:248.22px;top:33.0px;width:2.65px;height:235.0px;background:linear-gradient(transparent 15.28px,#7a2028 15.28px,#7a2028 16.45px,#db6831 18.80px,#e5e245 21.15px,#c1d349 23.50px,#accc58 25.85px,#9fc964 28.20px,#8bc378 39.95px,#7cbe97 63.45px,#7bbea3 77.55px,#7bbea3 110.45px,#7dc1c9 162.15px,#79bfd4 213.85px,#77bed7 235.00px)"></i><i style="left:250.58px;top:33.0px;width:2.65px;height:235.0px;background:linear-gradient(transparent 10.58px,#872028 10.58px,#872028 11.75px,#f0e145 14.10px,#c2d448 16.45px,#a6ca5d 21.15px,#8fc473 28.20px,#7dbe96 56.40px,#7abdaa 77.55px,#7bbda6 105.75px,#7dc1cd 166.85px,#77bed7 235.00px)"></i><i style="left:252.93px;top:33.0px;width:2.65px;height:235.0px;background:linear-gradient(transparent 10.58px,#8d2028 10.58px,#8d2028 11.75px,#aacc59 14.10px,#96c66c 18.80px,#84c084 32.90px,#7bbda4 63.45px,#7abdb1 77.55px,#7abdab 103.40px,#7cc1ce 169.20px,#77bed7 235.00px)"></i><i style="left:255.28px;top:33.0px;width:2.65px;height:235.0px;background:linear-gradient(transparent 8.22px,#8d2028 8.22px,#8d2028 9.40px,#b9d04f 11.75px,#9dc866 14.10px,#8dc375 16.45px,#7dbe90 35.25px,#79bdb5 75.20px,#7abdb1 105.75px,#7cc1cf 171.55px,#77bdd7 235.00px)"></i><i style="left:257.62px;top:33.0px;width:2.65px;height:235.0px;background:linear-gradient(transparent 5.88px,#8d2028 5.88px,#8d2028 7.05px,#b7d050 9.40px,#9dc866 11.75px,#8fc474 14.10px,#83c086 18.80px,#7cbe9a 37.60px,#7abeba 77.55px,#79bdb5 105.75px,#7bc0d1 176.25px,#76bdd7 235.00px)"></i><i style="left:259.98px;top:33.0px;width:2.65px;height:235.0px;background:linear-gradient(transparent 1.18px,#7a2028 1.18px,#7a2028 2.35px,#ecb83b 4.70px,#bed24b 7.05px,#9cc867 9.40px,#8cc376 11.75px,#7ebe90 18.80px,#7bbda5 44.65px,#7bbfbd 75.20px,#7abeb9 108.10px,#7ac0d2 178.60px,#76bdd7 235.00px)"></i><i style="left:262.33px;top:33.0px;width:2.65px;height:235.0px;background:linear-gradient(#ecb83b 0.00px,#c5d548 2.35px,#a9cb5a 4.70px,#8cc376 9.40px,#7dbe91 16.45px,#7bbe9f 25.85px,#7bbfc1 75.20px,#7abebc 105.75px,#7ac0d3 183.30px,#76bdd8 235.00px)"></i><i style="left:264.68px;top:33.0px;width:2.65px;height:235.0px;background:linear-gradient(#a7cb5c 0.00px,#8ec474 4.70px,#7dbe94 14.10px,#7bbda4 21.15px,#7cc0c4 75.20px,#7bbfbf 108.10px,#7ac0d3 180.95px,#76bdd8 235.00px)"></i><i style="left:267.02px;top:33.0px;width:2.65px;height:235.0px;background:linear-gradient(#8cc377 0.00px,#7cbe97 11.75px,#7abdae 23.50px,#7cc0c5 77.55px,#7cc0c5 119.85px,#79bfd4 197.40px,#76bdd8 235.00px)"></i><i style="left:269.38px;top:33.0px;width:2.65px;height:235.0px;background:linear-gradient(#82c088 0.00px,#79bdb3 21.15px,#7cc0c7 77.55px,#7cc0c7 122.20px,#78bed5 204.45px,#76bdd8 235.00px)"></i><i style="left:271.73px;top:33.0px;width:2.65px;height:235.0px;background:linear-gradient(#7cbe96 0.00px,#79bdb8 21.15px,#7cc0c8 77.55px,#7dc1c9 124.55px,#77bdd7 223.25px,#76bdd8 235.00px)"></i><i style="left:274.08px;top:33.0px;width:2.65px;height:235.0px;background:linear-gradient(#7bbea2 0.00px,#7abebd 21.15px,#7dc1ca 77.55px,#7dc1cb 126.90px,#75bdd8 235.00px)"></i><i style="left:276.43px;top:33.0px;width:2.65px;height:235.0px;background:linear-gradient(#7abdad 0.00px,#7abebc 14.10px,#7cc0c5 30.55px,#7dc1cb 77.55px,#7dc1cc 124.55px,#75bdd9 235.00px)"></i><i style="left:278.77px;top:33.0px;width:2.65px;height:235.0px;background:linear-gradient(#79bdb7 0.00px,#7cc0c7 28.20px,#7dc1cd 79.90px,#7cc1cf 141.00px,#75bdd9 235.00px)"></i><i style="left:281.12px;top:33.0px;width:2.65px;height:235.0px;background:linear-gradient(#7bbfbd 0.00px,#7cc0c5 14.10px,#7dc1ce 79.90px,#7ac0d2 159.80px,#75bcd9 235.00px)"></i><i style="left:283.48px;top:33.0px;width:2.65px;height:235.0px;background:linear-gradient(#7cc0c4 0.00px,#7dc1cd 49.35px,#78bfd4 178.60px,#75bcd9 235.00px)"></i><i style="left:285.83px;top:33.0px;width:1.47px;height:235.0px;background:linear-gradient(#7cc0c7 0.00px,#7cc1ce 49.35px,#78bed5 188.00px,#75bcd9 235.00px)"></i><i style="left:372.60px;top:33.0px;width:1.48px;height:234.6px;background:linear-gradient(transparent 137.24px,#7a2028 137.24px,#7a2028 138.41px,#892028 140.76px,#b2252b 143.11px,#c6322d 145.45px,#ce452d 147.80px,#e99f36 154.84px,#eee546 161.87px,#c2d449 168.91px,#a6ca5d 175.95px,#8ac27a 187.68px,#7cbe9a 201.76px,#7abeba 218.18px,#7dc1ca 234.60px)"></i><i style="left:373.78px;top:33.0px;width:2.65px;height:234.6px;background:linear-gradient(transparent 137.24px,#7a2028 137.24px,#7a2028 138.41px,#892028 140.76px,#b2252b 143.11px,#c6322d 145.45px,#ce452d 147.80px,#e99f36 154.84px,#eee546 161.87px,#c2d449 168.91px,#a6ca5d 175.95px,#8ac27a 187.68px,#7cbe9a 201.76px,#7abeba 218.18px,#7dc1ca 234.60px)"></i><i style="left:376.13px;top:33.0px;width:2.65px;height:234.6px;background:linear-gradient(transparent 137.24px,#7a2028 137.24px,#7a2028 138.41px,#892028 140.76px,#b2252b 143.11px,#c6322d 145.45px,#ce452d 147.80px,#e99f36 154.84px,#eee546 161.87px,#c2d449 168.91px,#a6ca5d 175.95px,#8ac27a 187.68px,#7cbe9a 201.76px,#7abeba 218.18px,#7dc1ca 234.60px)"></i><i style="left:378.49px;top:33.0px;width:2.65px;height:234.6px;background:linear-gradient(transparent 137.24px,#7a2028 137.24px,#7a2028 138.41px,#892028 140.76px,#b2252b 143.11px,#c6322d 145.45px,#ce452d 147.80px,#e99f36 154.84px,#eee546 161.87px,#c2d449 168.91px,#a6ca5d 175.95px,#8ac27a 187.68px,#7cbe9a 201.76px,#7abeba 218.18px,#7dc1ca 234.60px)"></i><i style="left:380.84px;top:33.0px;width:2.65px;height:234.6px;background:linear-gradient(transparent 137.24px,#7a2028 137.24px,#7a2028 138.41px,#892028 140.76px,#b2252b 143.11px,#c6322d 145.45px,#ce452d 147.80px,#e99f36 154.84px,#eee546 161.87px,#c2d449 168.91px,#a6ca5d 175.95px,#8ac27a 187.68px,#7cbe9a 201.76px,#7abeba 218.18px,#7dc1ca 234.60px)"></i><i style="left:383.19px;top:33.0px;width:2.65px;height:234.6px;background:linear-gradient(transparent 137.24px,#7a2028 137.24px,#7a2028 138.41px,#892028 140.76px,#b2252b 143.11px,#c6322d 145.45px,#ce452d 147.80px,#e99f36 154.84px,#eee546 161.87px,#c2d449 168.91px,#a6ca5d 175.95px,#8ac27a 187.68px,#7cbe9a 201.76px,#7abeba 218.18px,#7dc1ca 234.60px)"></i><i style="left:385.55px;top:33.0px;width:2.65px;height:234.6px;background:linear-gradient(transparent 137.24px,#7a2028 137.24px,#7a2028 138.41px,#892028 140.76px,#b2252b 143.11px,#c6322d 145.45px,#ce452d 147.80px,#e99f36 154.84px,#eee546 161.87px,#c2d449 168.91px,#a6ca5d 175.95px,#8ac27a 187.68px,#7cbe9a 201.76px,#7abeba 218.18px,#7dc1ca 234.60px)"></i><i style="left:387.90px;top:33.0px;width:2.65px;height:234.6px;background:linear-gradient(transparent 137.24px,#7a2028 137.24px,#7a2028 138.41px,#892028 140.76px,#b2252b 143.11px,#c6322d 145.45px,#ce452d 147.80px,#e99f36 154.84px,#eee546 161.87px,#c2d449 168.91px,#a6ca5d 175.95px,#8ac27a 187.68px,#7cbe9a 201.76px,#7abeba 218.18px,#7dc1ca 234.60px)"></i><i style="left:390.25px;top:33.0px;width:2.65px;height:234.6px;background:linear-gradient(transparent 137.24px,#7a2028 137.24px,#7a2028 138.41px,#892028 140.76px,#b2252b 143.11px,#c6322d 145.45px,#ce452d 147.80px,#e99f36 154.84px,#eee546 161.87px,#c2d449 168.91px,#a6ca5d 175.95px,#8ac27a 187.68px,#7cbe9a 201.76px,#7abeba 218.18px,#7dc1ca 234.60px)"></i><i style="left:392.61px;top:33.0px;width:2.65px;height:234.6px;background:linear-gradient(transparent 137.24px,#7a2028 137.24px,#7a2028 138.41px,#892028 140.76px,#b2252b 143.11px,#c6322d 145.45px,#ce452d 147.80px,#e99f36 154.84px,#eee546 161.87px,#c2d449 168.91px,#a6ca5d 175.95px,#8ac27a 187.68px,#7cbe9a 201.76px,#7abeba 218.18px,#7dc1ca 234.60px)"></i><i style="left:394.96px;top:33.0px;width:2.65px;height:234.6px;background:linear-gradient(transparent 137.24px,#7a2028 137.24px,#7a2028 138.41px,#892028 140.76px,#b2252b 143.11px,#c6322d 145.45px,#ce452d 147.80px,#e99f36 154.84px,#eee546 161.87px,#c2d449 168.91px,#a6ca5d 175.95px,#8ac27a 187.68px,#7cbe9a 201.76px,#7abeba 218.18px,#7dc1ca 234.60px)"></i><i style="left:397.32px;top:33.0px;width:2.65px;height:234.6px;background:linear-gradient(transparent 137.24px,#7a2028 137.24px,#7a2028 138.41px,#892028 140.76px,#b2252b 143.11px,#c6322d 145.45px,#ce452d 147.80px,#e99f36 154.84px,#eee546 161.87px,#c2d449 168.91px,#a6ca5d 175.95px,#8ac27a 187.68px,#7cbe9a 201.76px,#7abeba 218.18px,#7dc1ca 234.60px)"></i><i style="left:399.67px;top:33.0px;width:2.65px;height:234.6px;background:linear-gradient(transparent 137.24px,#7a2028 137.24px,#7a2028 138.41px,#892028 140.76px,#b2252b 143.11px,#c6322d 145.45px,#cf452d 147.80px,#e99f36 154.84px,#eee546 161.87px,#c2d449 168.91px,#a6ca5d 175.95px,#8ac27a 187.68px,#7cbe9a 201.76px,#7abeba 218.18px,#7dc1ca 234.60px)"></i><i style="left:402.03px;top:33.0px;width:2.65px;height:234.6px;background:linear-gradient(transparent 137.24px,#7a2028 137.24px,#7a2028 138.41px,#8c2028 140.76px,#b4262b 143.11px,#c7332d 145.45px,#cf472e 147.80px,#e38333 152.49px,#ecba3b 157.18px,#ede546 161.87px,#c2d449 168.91px,#a6ca5e 175.95px,#89c27b 187.68px,#7cbe9a 201.76px,#7abeba 218.18px,#7dc1ca 234.60px)"></i><i style="left:404.38px;top:33.0px;width:2.65px;height:234.6px;background:linear-gradient(transparent 137.24px,#7a2028 137.24px,#7a2028 138.41px,#8e2028 140.76px,#b5262b 143.11px,#c7342d 145.45px,#d0492e 147.80px,#e48533 152.49px,#ecbb3b 157.18px,#ede546 161.87px,#c1d349 168.91px,#9ec865 178.30px,#89c27b 187.68px,#7bbe9f 204.10px,#7bbfc1 222.87px,#7dc1ca 234.60px)"></i><i style="left:406.73px;top:33.0px;width:2.65px;height:234.6px;background:linear-gradient(transparent 137.24px,#7a2028 137.24px,#7a2028 138.41px,#912028 140.76px,#b7262b 143.11px,#c8342d 145.45px,#d04a2e 147.80px,#e48633 152.49px,#ecbc3b 157.18px,#ece546 161.87px,#c1d349 168.91px,#a6ca5e 175.95px,#89c27b 187.68px,#7bbe9f 204.10px,#7bbfc1 222.87px,#7dc1ca 234.60px)"></i><i style="left:409.09px;top:33.0px;width:2.65px;height:234.6px;background:linear-gradient(transparent 137.24px,#7a2028 137.24px,#7a2028 138.41px,#932028 140.76px,#b8272b 143.11px,#c8352d 145.45px,#d14c2e 147.80px,#eaa436 154.84px,#eed441 159.53px,#ece445 161.87px,#c1d34a 168.91px,#a5ca5e 175.95px,#89c27b 187.68px,#7bbe9f 204.10px,#7bbfc1 222.87px,#7dc1ca 234.60px)"></i><i style="left:411.44px;top:33.0px;width:2.65px;height:234.6px;background:linear-gradient(transparent 137.24px,#7a2028 137.24px,#7a2028 138.41px,#952028 140.76px,#b9272c 143.11px,#c8362d 145.45px,#d14d2e 147.80px,#e48834 152.49px,#edbd3c 157.18px,#efd542 159.53px,#ece445 161.87px,#c0d34a 168.91px,#98c76a 180.64px,#83c085 192.37px,#79bdb7 215.83px,#7dc1ca 234.60px)"></i><i style="left:413.80px;top:33.0px;width:2.65px;height:234.6px;background:linear-gradient(transparent 137.24px,#7a2028 137.24px,#7a2028 138.41px,#972028 140.76px,#bb282c 143.11px,#c9372d 145.45px,#d24f2e 147.80px,#eaa737 154.84px,#efd542 159.53px,#ebe445 161.87px,#c0d34a 168.91px,#a5ca5e 175.95px,#89c27b 187.68px,#7bbe9f 204.10px,#7bbfc1 222.87px,#7dc1ca 234.60px)"></i><i style="left:416.15px;top:33.0px;width:2.65px;height:234.6px;background:linear-gradient(transparent 137.24px,#7a2028 137.24px,#7a2028 138.41px,#982028 140.76px,#bc282c 143.11px,#c9382d 145.45px,#d2502e 147.80px,#e58b34 152.49px,#edbf3c 157.18px,#efd642 159.53px,#ebe445 161.87px,#c0d34a 168.91px,#a5ca5e 175.95px,#89c27b 187.68px,#7bbe9f 204.10px,#7bbfc1 222.87px,#7dc1ca 234.60px)"></i><i style="left:418.50px;top:33.0px;width:2.65px;height:234.6px;background:linear-gradient(transparent 137.24px,#7a2028 137.24px,#7a2028 138.41px,#992028 140.76px,#bd282c 143.11px,#c9392d 145.45px,#e58c34 152.49px,#edc03d 157.18px,#efd742 159.53px,#eae445 161.87px,#bfd34a 168.91px,#9ec865 178.30px,#86c180 190.03px,#7bbe9f 204.10px,#7bbfc1 222.87px,#7dc1ca 234.60px)"></i><i style="left:420.86px;top:33.0px;width:2.65px;height:234.6px;background:linear-gradient(transparent 137.24px,#7a2028 137.24px,#7a2028 138.41px,#9b2028 140.76px,#be292c 143.11px,#ca392d 145.45px,#e58e34 152.49px,#edc13d 157.18px,#efd843 159.53px,#eae345 161.87px,#bfd34b 168.91px,#9dc866 178.30px,#83c086 192.37px,#7bbe9f 204.10px,#7bbfc1 222.87px,#7dc1ca 234.60px)"></i><i style="left:423.21px;top:33.0px;width:2.65px;height:234.6px;background:linear-gradient(transparent 137.24px,#7a2028 137.24px,#7a2028 138.41px,#9c2028 140.76px,#bf292c 143.11px,#ca3a2d 145.45px,#e68f34 152.49px,#ebac37 154.84px,#efd943 159.53px,#e9e345 161.87px,#bed24b 168.91px,#9dc866 178.30px,#89c27b 187.68px,#7dbe95 199.41px,#7abeba 218.18px,#7dc1ca 234.60px)"></i><i style="left:425.56px;top:33.0px;width:2.65px;height:234.6px;background:linear-gradient(transparent 137.24px,#7a2028 137.24px,#7a2028 138.41px,#9d2028 140.76px,#c1292d 143.11px,#cb3b2d 145.45px,#e69134 152.49px,#edc43d 157.18px,#efda43 159.53px,#e8e345 161.87px,#bed24b 168.91px,#9dc866 178.30px,#89c27c 187.68px,#7cbe96 199.41px,#7abebb 218.18px,#7dc1ca 234.60px)"></i><i style="left:427.92px;top:33.0px;width:2.65px;height:234.6px;background:linear-gradient(transparent 137.24px,#7a2028 137.24px,#7a2028 138.41px,#9e2028 140.76px,#c22a2d 143.11px,#cb3c2d 145.45px,#e69235 152.49px,#edc53e 157.18px,#efdc43 159.53px,#e7e345 161.87px,#bdd24c 168.91px,#9dc866 178.30px,#89c27c 187.68px,#7cbe96 199.41px,#7abebb 218.18px,#7dc1ca 234.60px)"></i><i style="left:430.27px;top:33.0px;width:2.65px;height:234.6px;background:linear-gradient(transparent 137.24px,#7a2028 137.24px,#7a2028 138.41px,#a02028 140.76px,#c32a2d 143.11px,#cb3d2d 145.45px,#e17732 150.14px,#ebaf38 154.84px,#efdd44 159.53px,#e7e245 161.87px,#bdd24c 168.91px,#9cc867 178.30px,#86c181 190.03px,#7cbe9b 201.76px,#7abebb 218.18px,#7dc1ca 234.60px)"></i><i style="left:432.63px;top:33.0px;width:2.65px;height:234.6px;background:linear-gradient(transparent 137.24px,#7a2028 137.24px,#7a2028 138.41px,#a12028 140.76px,#c32b2d 143.11px,#cc3e2d 145.45px,#e79635 152.49px,#efdf44 159.53px,#e6e245 161.87px,#bcd24c 168.91px,#96c66c 180.64px,#85c182 190.03px,#7bbea1 204.10px,#7bbfbf 220.52px,#7dc1ca 234.60px)"></i><i style="left:434.98px;top:33.0px;width:2.65px;height:234.6px;background:linear-gradient(transparent 137.24px,#7a2028 137.24px,#7a2028 138.41px,#a22128 140.76px,#c42c2d 143.11px,#cc3f2d 145.45px,#e27b32 150.14px,#eec93f 157.18px,#efe044 159.53px,#e5e245 161.87px,#c8d647 166.57px,#aacb5a 173.60px,#8bc377 185.33px,#7cbe97 199.41px,#7abebc 218.18px,#7dc1ca 234.60px)"></i><i style="left:437.34px;top:33.0px;width:2.65px;height:234.6px;background:linear-gradient(transparent 137.24px,#7a2028 137.24px,#7a2028 138.41px,#a32128 140.76px,#c42d2d 143.11px,#cc402d 145.45px,#e27c32 150.14px,#eeca3f 157.18px,#f0e145 159.53px,#d5db46 164.22px,#bbd14d 168.91px,#9bc767 178.30px,#85c182 190.03px,#7bbea1 204.10px,#7bbfbf 220.52px,#7dc1ca 234.60px)"></i><i style="left:439.69px;top:33.0px;width:2.65px;height:234.6px;background:linear-gradient(transparent 137.24px,#7a2028 137.24px,#7a2028 138.41px,#a42129 140.76px,#c52e2d 143.11px,#cd412d 145.45px,#e89a35 152.49px,#f0e345 159.53px,#c6d548 166.57px,#a9cb5b 173.60px,#8bc378 185.33px,#7cbe97 199.41px,#7abebc 218.18px,#7dc1ca 234.60px)"></i><i style="left:442.04px;top:33.0px;width:2.65px;height:234.6px;background:linear-gradient(transparent 137.24px,#7a2028 137.24px,#7a2028 138.41px,#a62229 140.76px,#c52f2d 143.11px,#ce432d 145.45px,#e38033 150.14px,#ecb63a 154.84px,#f0e546 159.53px,#c6d548 166.57px,#a9cb5b 173.60px,#8bc378 185.33px,#7cbe98 199.41px,#7abebc 218.18px,#7dc1ca 234.60px)"></i><i style="left:444.40px;top:33.0px;width:2.65px;height:234.6px;background:linear-gradient(transparent 137.24px,#7a2028 137.24px,#7a2028 138.41px,#a92329 140.76px,#c6312d 143.11px,#cf472e 145.45px,#e38433 150.14px,#eecf40 157.18px,#efe646 159.53px,#c5d548 166.57px,#a8cb5c 173.60px,#8bc379 185.33px,#7cbe98 199.41px,#7abebc 218.18px,#7dc1ca 234.60px)"></i><i style="left:446.75px;top:33.0px;width:2.65px;height:234.6px;background:linear-gradient(transparent 137.24px,#7a2028 137.24px,#7a2028 138.41px,#ab232a 140.76px,#c7332d 143.11px,#d04a2e 145.45px,#e48733 150.14px,#ecbb3b 154.84px,#eee546 159.53px,#c3d448 166.57px,#a0c963 175.95px,#87c17e 187.68px,#7cbe9d 201.76px,#7abebd 218.18px,#7dc1ca 234.60px)"></i><i style="left:449.11px;top:33.0px;width:2.65px;height:234.6px;background:linear-gradient(transparent 134.90px,#7a2028 134.90px,#7a2028 136.07px,#842028 138.41px,#b3252b 140.76px,#c8352d 143.11px,#d24e2e 145.45px,#e58a34 150.14px,#edbd3c 154.84px,#ede546 159.53px,#c2d448 166.57px,#a0c963 175.95px,#8ac279 185.33px,#7cbe99 199.41px,#7abebd 218.18px,#7dc1cb 234.60px)"></i><i style="left:451.46px;top:33.0px;width:2.65px;height:234.6px;background:linear-gradient(transparent 134.90px,#7a2028 134.90px,#7a2028 136.07px,#b3262b 138.41px,#c52f2d 140.76px,#cc3e2d 143.11px,#e69034 150.14px,#edc13d 154.84px,#efd742 157.18px,#ebe445 159.53px,#c1d349 166.57px,#9fc864 175.95px,#87c17f 187.68px,#7cbe99 199.41px,#7bbfbd 218.18px,#7dc1cb 234.60px)"></i><i style="left:453.81px;top:33.0px;width:2.65px;height:234.6px;background:linear-gradient(transparent 134.90px,#7a2028 134.90px,#7a2028 136.07px,#b6262b 138.41px,#ca3a2d 140.76px,#e89b35 150.14px,#efdc44 157.18px,#e8e345 159.53px,#bfd34a 166.57px,#9ec865 175.95px,#8ac27a 185.33px,#7cbe99 199.41px,#7abeba 215.83px,#7dc1cb 234.60px)"></i><i style="left:456.17px;top:33.0px;width:2.65px;height:234.6px;background:linear-gradient(transparent 134.90px,#7a2028 134.90px,#7a2028 136.07px,#b9272c 138.41px,#cb3b2d 140.76px,#e17932 145.45px,#eba937 150.14px,#f0e646 157.18px,#c8d647 164.22px,#abcc59 171.26px,#89c27b 185.33px,#7bbe9f 201.76px,#7bbfc1 220.52px,#7dc1cb 234.60px)"></i><i style="left:458.52px;top:33.0px;width:2.65px;height:234.6px;background:linear-gradient(transparent 134.90px,#7a2028 134.90px,#7a2028 136.07px,#bb282c 138.41px,#cb3d2d 140.76px,#e27d32 145.45px,#ecb339 150.14px,#efdb43 154.84px,#eae445 157.18px,#c3d448 164.22px,#a2c961 173.60px,#89c27c 185.33px,#7cbe96 197.06px,#7abebb 215.83px,#7dc1cb 234.60px)"></i><i style="left:460.88px;top:33.0px;width:2.65px;height:234.6px;background:linear-gradient(transparent 134.90px,#7a2028 134.90px,#7a2028 136.07px,#bd282c 138.41px,#cc3f2d 140.76px,#e38033 145.45px,#eecb3f 152.49px,#f0e245 154.84px,#d6dc45 159.53px,#b4cf52 166.57px,#8bc378 182.99px,#7cbe97 197.06px,#7bbfbf 218.18px,#7dc1cb 234.60px)"></i><i style="left:463.23px;top:33.0px;width:2.65px;height:234.6px;background:linear-gradient(transparent 132.55px,#7a2028 132.55px,#7a2028 133.72px,#952028 136.07px,#c32a2d 138.41px,#cd412d 140.76px,#da6630 143.11px,#e9a036 147.80px,#f0e546 154.84px,#c7d647 161.87px,#aacc5a 168.91px,#8ac27a 182.99px,#7cbe9d 199.41px,#7bbfbf 218.18px,#7dc1cb 234.60px)"></i><i style="left:465.58px;top:33.0px;width:2.65px;height:234.6px;background:linear-gradient(transparent 132.55px,#7a2028 132.55px,#7a2028 133.72px,#bf292c 136.07px,#ca392d 138.41px,#d3512e 140.76px,#e58a34 145.45px,#ecbc3b 150.14px,#efe646 154.84px,#c6d548 161.87px,#a2c961 171.26px,#89c27c 182.99px,#7cbe99 197.06px,#7abebd 215.83px,#7dc1cb 234.60px)"></i><i style="left:467.94px;top:33.0px;width:2.65px;height:234.6px;background:linear-gradient(transparent 132.55px,#7a2028 132.55px,#7a2028 133.72px,#c1292d 136.07px,#ce442d 138.41px,#db6931 140.76px,#edc23d 150.14px,#efd742 152.49px,#ece445 154.84px,#c3d448 161.87px,#a1c962 171.26px,#88c27d 182.99px,#7cbe9b 197.06px,#7bbfc1 218.18px,#7dc1cb 234.60px)"></i><i style="left:470.29px;top:33.0px;width:2.65px;height:234.6px;background:linear-gradient(transparent 132.55px,#7a2028 132.55px,#7a2028 133.72px,#c32a2d 136.07px,#d0482e 138.41px,#de6f31 140.76px,#eaa737 145.45px,#efe044 152.49px,#e7e245 154.84px,#c0d34a 161.87px,#9ac769 173.60px,#85c183 185.33px,#7bbea1 199.41px,#7bbfc1 218.18px,#7dc1cb 234.60px)"></i><i style="left:472.64px;top:33.0px;width:2.65px;height:234.6px;background:linear-gradient(transparent 130.20px,#7a2028 130.20px,#7a2028 131.38px,#932028 133.72px,#c52e2d 136.07px,#d14d2e 138.41px,#df7332 140.76px,#ebad38 145.45px,#efd842 150.14px,#ede546 152.49px,#c8d647 159.53px,#accc58 166.57px,#8ac27a 180.64px,#7cbe9d 197.06px,#7abebc 213.49px,#7dc1cb 234.60px)"></i><i style="left:475.00px;top:33.0px;width:2.65px;height:234.6px;background:linear-gradient(transparent 130.20px,#7a2028 130.20px,#7a2028 131.38px,#c42d2d 133.72px,#cc3e2d 136.07px,#e27b32 140.76px,#ecb239 145.45px,#efdd44 150.14px,#e8e345 152.49px,#c2d449 159.53px,#9cc867 171.26px,#86c180 182.99px,#7cbe9e 197.06px,#7bbfc0 215.83px,#7dc1cc 234.60px)"></i><i style="left:477.35px;top:33.0px;width:2.65px;height:234.6px;background:linear-gradient(transparent 130.20px,#7a2028 130.20px,#7a2028 131.38px,#c52e2d 133.72px,#e07432 138.41px,#ecba3b 145.45px,#f0e445 150.14px,#c9d647 157.18px,#b3ce52 161.87px,#8bc377 178.30px,#7dbe96 192.37px,#7bbfbe 213.49px,#7dc1cc 234.60px)"></i><i style="left:479.71px;top:33.0px;width:2.65px;height:234.6px;background:linear-gradient(transparent 127.86px,#7a2028 127.86px,#7a2028 129.03px,#922028 131.38px,#c6312d 133.72px,#e27e33 138.41px,#e99e36 140.76px,#efd742 147.80px,#ece445 150.14px,#bbd14d 159.53px,#9dc866 168.91px,#87c17e 180.64px,#7cbe9c 194.72px,#7abebb 211.14px,#7dc1cb 229.91px,#7dc1cc 234.60px)"></i><i style="left:482.06px;top:33.0px;width:2.65px;height:234.6px;background:linear-gradient(transparent 127.86px,#842028 127.86px,#842028 129.03px,#c8342d 131.38px,#ce432d 133.72px,#e48733 138.41px,#eaa536 140.76px,#f0e446 147.80px,#c1d349 157.18px,#9bc768 168.91px,#86c180 180.64px,#7cbe9d 194.72px,#7abebc 211.14px,#7dc1cc 232.25px,#7dc1cc 234.60px)"></i><i style="left:484.42px;top:33.0px;width:2.65px;height:234.6px;background:linear-gradient(transparent 127.86px,#8d2028 127.86px,#8d2028 129.03px,#ca3a2d 131.38px,#db6730 133.72px,#edc53e 143.11px,#efd943 145.45px,#eae445 147.80px,#bcd24c 157.18px,#94c56e 171.26px,#7dbe91 187.68px,#7abebd 211.14px,#7dc1cc 232.25px,#7dc1cc 234.60px)"></i><i style="left:486.77px;top:33.0px;width:2.65px;height:234.6px;background:linear-gradient(transparent 125.51px,#8d2028 125.51px,#8d2028 126.68px,#c8362d 129.03px,#d3522f 131.38px,#e79535 136.07px,#edbd3c 140.76px,#f0e446 145.45px,#c0d34a 154.84px,#9cc866 166.57px,#84c084 180.64px,#7bbea1 194.72px,#7bbfbe 211.14px,#7dc1cc 232.25px,#7dc1cc 234.60px)"></i><i style="left:489.12px;top:33.0px;width:2.65px;height:234.6px;background:linear-gradient(transparent 123.17px,#8d2028 123.17px,#8d2028 124.34px,#cc3f2d 126.68px,#d75d30 129.03px,#eaa537 136.07px,#eecd40 140.76px,#efdd44 143.11px,#eae445 145.45px,#bbd14d 154.84px,#9fc964 164.22px,#89c27c 175.95px,#7cbe9a 190.03px,#7bbfbf 211.14px,#7dc1cd 234.60px)"></i><i style="left:491.48px;top:33.0px;width:2.65px;height:234.6px;background:linear-gradient(transparent 120.82px,#8d2028 120.82px,#8d2028 121.99px,#d4542f 124.34px,#df7332 126.68px,#eec83f 138.41px,#efdb43 140.76px,#ebe445 143.11px,#c0d34a 152.49px,#a2c962 161.87px,#87c17e 175.95px,#7cbe9b 190.03px,#7abebd 208.79px,#7dc1cc 232.25px,#7dc1cd 234.60px)"></i><i style="left:493.83px;top:33.0px;width:2.65px;height:234.6px;background:linear-gradient(transparent 118.47px,#7a2028 118.47px,#7a2028 119.65px,#d14c2e 121.99px,#e48633 124.34px,#e89b35 126.68px,#eec83f 136.07px,#ede546 140.76px,#c3d448 150.14px,#a5ca5f 159.53px,#8bc377 171.26px,#7cbe98 187.68px,#7abebb 206.45px,#7dc1cb 227.56px,#7dc1cd 234.60px)"></i><i style="left:496.19px;top:33.0px;width:2.65px;height:234.6px;background:linear-gradient(transparent 116.13px,#7a2028 116.13px,#7a2028 117.30px,#cd422d 119.65px,#e38433 121.99px,#ebad38 124.34px,#ecb93b 126.68px,#eecf40 133.72px,#ede546 138.41px,#c4d448 147.80px,#a1c962 159.53px,#87c17f 173.60px,#7cbe9a 187.68px,#7bbfc0 208.79px,#7dc1cd 232.25px,#7dc1cd 234.60px)"></i><i style="left:498.54px;top:33.0px;width:2.65px;height:234.6px;background:linear-gradient(transparent 113.78px,#8d2028 113.78px,#8d2028 114.95px,#d86030 117.30px,#e79735 119.65px,#ecb339 121.99px,#eec83f 124.34px,#f0e646 133.72px,#d9dd45 140.76px,#bcd24c 147.80px,#8fc473 166.57px,#7cbe98 185.33px,#7bbfbe 206.45px,#7dc1cc 229.91px,#7dc1cd 234.60px)"></i><i style="left:500.89px;top:33.0px;width:2.65px;height:234.6px;background:linear-gradient(transparent 111.44px,#7a2028 111.44px,#7a2028 112.61px,#df7332 114.95px,#ecb239 117.30px,#edc83e 119.65px,#f0e245 124.34px,#e7e345 131.38px,#ced847 140.76px,#a9cb5b 152.49px,#89c27b 168.91px,#7cbe9a 185.33px,#7bbfbf 206.45px,#7dc1cc 227.56px,#7dc1ce 234.60px)"></i><i style="left:503.25px;top:33.0px;width:2.65px;height:234.6px;background:linear-gradient(transparent 111.44px,#8d2028 111.44px,#8d2028 112.61px,#edc23d 114.95px,#efde44 117.30px,#eee546 119.65px,#cad747 138.41px,#a5ca5f 152.49px,#88c27e 168.91px,#7cbe99 182.99px,#7bbfc0 206.45px,#7dc1cd 229.91px,#7dc1ce 234.60px)"></i><i style="left:505.60px;top:33.0px;width:2.65px;height:234.6px;background:linear-gradient(transparent 106.74px,#7a2028 106.74px,#7a2028 107.92px,#e58e34 110.26px,#efd542 112.61px,#e8e345 114.95px,#bfd34b 138.41px,#8bc378 164.22px,#7cbe9b 182.99px,#7bbfbf 204.10px,#7dc1cc 225.22px,#7cc1ce 234.60px)"></i><i style="left:507.96px;top:33.0px;width:2.65px;height:234.6px;background:linear-gradient(transparent 102.05px,#7a2028 102.05px,#7a2028 103.22px,#dd6d31 105.57px,#ecbb3b 107.92px,#ede546 110.26px,#dadd45 112.61px,#b9d04f 136.07px,#89c27b 164.22px,#7cbe99 180.64px,#7bbfbd 201.76px,#7dc1cc 225.22px,#7cc1ce 234.60px)"></i><i style="left:510.31px;top:33.0px;width:2.65px;height:234.6px;background:linear-gradient(transparent 97.36px,#7a2028 97.36px,#7a2028 98.53px,#e07632 100.88px,#eeca3f 103.22px,#e8e345 105.57px,#cdd847 110.26px,#c6d548 112.61px,#bbd14d 126.68px,#a3ca60 145.45px,#87c17f 164.22px,#7bbea0 182.99px,#7bbfbf 201.76px,#7dc1cc 222.87px,#7cc1ce 234.60px)"></i><i style="left:512.66px;top:33.0px;width:2.65px;height:234.6px;background:linear-gradient(transparent 95.01px,#8d2028 95.01px,#8d2028 96.19px,#eeca3f 98.53px,#dfdf44 100.88px,#cdd847 103.22px,#bfd34a 107.92px,#adcc57 131.38px,#8cc377 157.18px,#7cbe97 175.95px,#7abebb 197.06px,#7dc1cb 220.52px,#7cc1cf 234.60px)"></i><i style="left:515.02px;top:33.0px;width:2.65px;height:234.6px;background:linear-gradient(transparent 90.32px,#8d2028 90.32px,#8d2028 91.49px,#ebad38 93.84px,#e9e345 96.19px,#cad747 98.53px,#bdd24c 100.88px,#b1ce54 110.26px,#abcc58 126.68px,#8cc377 154.84px,#7cbe9a 175.95px,#7abebc 197.06px,#7dc1cc 220.52px,#7cc1cf 234.60px)"></i><i style="left:517.37px;top:33.0px;width:2.65px;height:234.6px;background:linear-gradient(transparent 85.63px,#7a2028 85.63px,#7a2028 86.80px,#e89b36 89.15px,#e9e345 91.49px,#cad747 93.84px,#b3ce52 98.53px,#aacc59 110.26px,#a7cb5d 124.34px,#89c27b 154.84px,#7cbe99 173.60px,#7bbfbe 197.06px,#7dc1cd 222.87px,#7cc1cf 234.60px)"></i><i style="left:519.73px;top:33.0px;width:2.65px;height:234.6px;background:linear-gradient(transparent 80.94px,#892028 80.94px,#892028 82.11px,#e68f34 84.46px,#f0e345 86.80px,#cfd946 89.15px,#bcd14d 91.49px,#accc58 96.19px,#a4ca5f 110.26px,#9dc866 129.03px,#87c180 154.84px,#7cbe99 171.26px,#7bbfc0 197.06px,#7dc1cd 222.87px,#7cc1cf 234.60px)"></i><i style="left:522.08px;top:33.0px;width:2.65px;height:234.6px;background:linear-gradient(transparent 71.55px,#8d2028 71.55px,#8d2028 72.73px,#cf462d 75.07px,#e79735 77.42px,#eec93f 79.76px,#ebe445 82.11px,#d0d946 84.46px,#bed24b 86.80px,#accc58 91.49px,#9fc864 100.88px,#9ac768 124.34px,#83c087 157.18px,#7bbda4 175.95px,#7bbfc1 197.06px,#7cc1cf 229.91px,#7bc0d0 234.60px)"></i><i style="left:524.43px;top:33.0px;width:2.65px;height:234.6px;background:linear-gradient(transparent 66.86px,#7a2028 66.86px,#7a2028 68.03px,#e48934 70.38px,#f0e646 72.73px,#d9dd45 75.07px,#c1d349 79.76px,#a3ca60 91.49px,#99c76a 100.88px,#95c66d 124.34px,#80bf8b 157.18px,#7abebb 190.03px,#7dc1cb 213.49px,#7bc0d0 234.60px)"></i><i style="left:526.79px;top:33.0px;width:2.65px;height:234.6px;background:linear-gradient(transparent 62.17px,#8d2028 62.17px,#8d2028 63.34px,#e9a136 65.69px,#efde44 68.03px,#d2da46 70.38px,#bed24b 72.73px,#b0cd55 77.42px,#94c56e 98.53px,#90c472 124.34px,#7ebe90 157.18px,#7bbfc0 192.37px,#7dc1cd 218.18px,#7bc0d0 234.60px)"></i><i style="left:529.14px;top:33.0px;width:2.65px;height:234.6px;background:linear-gradient(transparent 50.44px,#8d2028 50.44px,#8d2028 51.61px,#ca3a2d 53.96px,#e27b32 56.30px,#ebb038 58.65px,#efd542 61.00px,#dfdf44 63.34px,#cad747 65.69px,#b3ce52 70.38px,#a3ca60 79.76px,#8dc375 100.88px,#8cc376 121.99px,#7cbe97 159.53px,#7bbfc0 190.03px,#7cc1ce 222.87px,#7bc0d0 234.60px)"></i><i style="left:531.50px;top:33.0px;width:2.65px;height:234.6px;background:linear-gradient(transparent 43.40px,#8d2028 43.40px,#8d2028 44.57px,#da6330 46.92px,#edbe3c 49.27px,#e9e345 51.61px,#c5d548 58.65px,#b0cd55 65.69px,#9bc768 79.76px,#89c27b 100.88px,#88c27c 124.34px,#7cbe9e 161.87px,#7bbfc1 190.03px,#7cc1ce 220.52px,#7bc0d1 234.60px)"></i><i style="left:533.85px;top:33.0px;width:2.65px;height:234.6px;background:linear-gradient(transparent 31.67px,#7a2028 31.67px,#7a2028 32.84px,#c9382d 35.19px,#df7131 37.54px,#e9a236 39.88px,#efe646 44.57px,#d5db46 46.92px,#c3d448 49.27px,#b3ce52 53.96px,#93c56f 82.11px,#86c180 103.22px,#86c181 124.34px,#7bbea2 161.87px,#7cc0c3 190.03px,#7bc0d0 227.56px,#7bc0d1 234.60px)"></i><i style="left:536.20px;top:33.0px;width:2.65px;height:234.6px;background:linear-gradient(transparent 19.94px,#8d2028 19.94px,#8d2028 21.11px,#d0492e 23.46px,#e58b34 25.81px,#ecba3b 28.15px,#efd943 30.50px,#e8e345 32.84px,#c7d647 39.88px,#a9cb5a 51.61px,#88c27d 91.49px,#83c086 103.22px,#83c086 124.34px,#7bbda7 161.87px,#7cc0c4 190.03px,#7cc1cf 222.87px,#7ac0d1 234.60px)"></i><i style="left:538.56px;top:33.0px;width:2.65px;height:234.6px;background:linear-gradient(transparent 10.56px,#8d2028 10.56px,#8d2028 11.73px,#da6530 14.08px,#ebac38 16.42px,#efd943 18.77px,#e5e144 21.11px,#cbd747 25.81px,#b3ce52 35.19px,#9bc768 58.65px,#89c27c 84.46px,#80bf8b 103.22px,#80bf8b 124.34px,#7abdae 164.22px,#7cc0c8 194.72px,#7ac0d2 234.60px)"></i><i style="left:540.91px;top:33.0px;width:2.65px;height:234.6px;background:linear-gradient(#c52e2d 0.00px,#da6630 2.35px,#e79735 4.69px,#edbd3c 7.04px,#efd843 9.38px,#e5e144 11.73px,#c5d548 16.42px,#b5cf51 21.11px,#93c56f 61.00px,#7dbe91 103.22px,#7ebe8f 121.99px,#7bbfc1 180.64px,#7dc1ce 213.49px,#7ac0d2 234.60px)"></i><i style="left:543.26px;top:33.0px;width:2.65px;height:234.6px;background:linear-gradient(#dedf44 0.00px,#c8d647 4.69px,#aacc5a 18.77px,#89c27c 70.38px,#7dbe95 103.22px,#7cbe96 126.68px,#7cc0c7 187.68px,#7ac0d2 234.60px)"></i><i style="left:545.62px;top:33.0px;width:2.65px;height:234.6px;background:linear-gradient(#b3ce52 0.00px,#99c769 28.15px,#82c087 77.42px,#7cbe9a 103.22px,#7cbe9b 126.68px,#7cc0c7 185.33px,#7ac0d2 234.60px)"></i><i style="left:547.97px;top:33.0px;width:2.65px;height:234.6px;background:linear-gradient(#a6ca5e 0.00px,#8bc377 44.57px,#7cbe99 93.84px,#7bbe9f 103.22px,#7bbea0 126.68px,#7cc0c7 182.99px,#7ac0d2 234.60px)"></i><i style="left:550.33px;top:33.0px;width:2.65px;height:234.6px;background:linear-gradient(#9cc866 0.00px,#88c27c 42.23px,#7bbea0 96.19px,#7bbda4 103.22px,#7bbda5 126.68px,#7cc0c7 180.64px,#7ac0d3 234.60px)"></i><i style="left:552.68px;top:33.0px;width:2.65px;height:234.6px;background:linear-gradient(#96c66d 0.00px,#86c181 37.54px,#7cbe9b 82.11px,#7abda9 103.22px,#7abdaa 126.68px,#7dc1ca 182.99px,#79c0d3 234.60px)"></i><i style="left:555.03px;top:33.0px;width:2.65px;height:234.6px;background:linear-gradient(#8fc473 0.00px,#7cbe98 70.38px,#7abdae 103.22px,#7abdaf 126.68px,#7dc1ca 180.64px,#79c0d3 234.60px)"></i><i style="left:557.39px;top:33.0px;width:2.65px;height:234.6px;background:linear-gradient(#8ac27a 0.00px,#7cbe9a 65.69px,#79bdb3 103.22px,#79bdb4 126.68px,#7dc1cb 182.99px,#79bfd3 234.60px)"></i><i style="left:559.74px;top:33.0px;width:2.65px;height:234.6px;background:linear-gradient(#86c180 0.00px,#7cbe9a 53.96px,#79bdb7 103.22px,#7abebb 136.07px,#7dc1cd 190.03px,#79bfd3 234.60px)"></i><i style="left:562.10px;top:33.0px;width:2.65px;height:234.6px;background:linear-gradient(#83c087 0.00px,#7cbe9a 42.23px,#7abebb 103.22px,#7abebd 131.38px,#7cc1ce 194.72px,#79bfd4 234.60px)"></i><i style="left:564.45px;top:33.0px;width:2.65px;height:234.6px;background:linear-gradient(#7fbf8d 0.00px,#7bbfbe 103.22px,#7bbfc1 136.07px,#7bc0d1 211.14px,#79bfd4 234.60px)"></i><i style="left:566.81px;top:33.0px;width:2.65px;height:234.6px;background:linear-gradient(#7dbe93 0.00px,#7bbfc1 105.57px,#7cc0c7 150.14px,#79bfd4 234.60px)"></i><i style="left:569.16px;top:33.0px;width:2.65px;height:234.6px;background:linear-gradient(#7cbe99 0.00px,#7cc0c3 100.88px,#7cc0c8 147.80px,#79bfd4 234.60px)"></i><i style="left:571.51px;top:33.0px;width:2.65px;height:234.6px;background:linear-gradient(#7cbe9f 0.00px,#7bbfbe 77.42px,#7cc0c5 110.26px,#79bfd4 232.25px,#78bfd4 234.60px)"></i><i style="left:573.87px;top:33.0px;width:2.65px;height:234.6px;background:linear-gradient(#7bbda5 0.00px,#79bdb7 44.57px,#7cc0c6 107.92px,#79bfd4 229.91px,#78bfd5 234.60px)"></i><i style="left:576.22px;top:33.0px;width:2.65px;height:234.6px;background:linear-gradient(#7abdab 0.00px,#7abebc 49.27px,#7cc0c8 110.26px,#79bfd4 227.56px,#78bfd5 234.60px)"></i><i style="left:578.58px;top:33.0px;width:2.65px;height:234.6px;background:linear-gradient(#7abdb1 0.00px,#7cc0c7 84.46px,#79bfd4 225.22px,#78bed5 234.60px)"></i><i style="left:580.93px;top:33.0px;width:2.65px;height:234.6px;background:linear-gradient(#79bdb6 0.00px,#7dc1cb 98.53px,#78bed5 234.60px)"></i><i style="left:583.28px;top:33.0px;width:2.65px;height:234.6px;background:linear-gradient(#7abeba 0.00px,#7dc1cb 93.84px,#78bed5 234.60px)"></i><i style="left:585.64px;top:33.0px;width:2.65px;height:234.6px;background:linear-gradient(#7bbfbe 0.00px,#7dc1cc 105.57px,#78bed6 234.60px)"></i><i style="left:587.99px;top:33.0px;width:2.65px;height:234.6px;background:linear-gradient(#7bbfc1 0.00px,#7dc1cd 112.61px,#77bed6 234.60px)"></i><i style="left:590.35px;top:33.0px;width:2.65px;height:234.6px;background:linear-gradient(#7cc0c4 0.00px,#7dc1cd 119.65px,#77bed6 234.60px)"></i><i style="left:592.70px;top:33.0px;width:2.65px;height:234.6px;background:linear-gradient(#7cc0c6 0.00px,#78bed6 225.22px,#77bed6 234.60px)"></i><i style="left:595.05px;top:33.0px;width:2.65px;height:234.6px;background:linear-gradient(#7cc0c8 0.00px,#78bed6 222.87px,#77bed7 234.60px)"></i><i style="left:597.41px;top:33.0px;width:2.65px;height:234.6px;background:linear-gradient(#7dc1ca 0.00px,#77bed7 234.60px)"></i><i style="left:599.76px;top:33.0px;width:2.65px;height:234.6px;background:linear-gradient(#7dc1cb 0.00px,#77bdd7 234.60px)"></i><i style="left:602.12px;top:33.0px;width:2.65px;height:234.6px;background:linear-gradient(#7dc1cc 0.00px,#76bdd7 234.60px)"></i><i style="left:604.47px;top:33.0px;width:2.65px;height:234.6px;background:linear-gradient(#7dc1cc 0.00px,#76bdd8 234.60px)"></i><i style="left:606.82px;top:33.0px;width:1.48px;height:234.6px;background:linear-gradient(#7dc1cd 0.00px,#76bdd8 234.60px)"></i>
<svg width="685" height="641"><line x1="372.6" y1="33.2" x2="375.2" y2="33.2" stroke="#999" stroke-width="1"/><rect x="53.5" y="359.4" width="235.8" height="235.8" fill="none" stroke="#8a8a8a" stroke-width="1"/><rect x="374.4" y="359.6" width="240" height="235.6" fill="none" stroke="#8a8a8a" stroke-width="1"/><path d="M53.5,571.5h2.2M289.3,571.5h-2.2M53.5,557.7h2.2M289.3,557.7h-2.2M53.5,547.9h2.2M289.3,547.9h-2.2M53.5,540.3h2.2M289.3,540.3h-2.2M53.5,534.0h2.2M289.3,534.0h-2.2M53.5,528.8h2.2M289.3,528.8h-2.2M53.5,524.2h2.2M289.3,524.2h-2.2M53.5,520.2h2.2M289.3,520.2h-2.2M53.5,492.9h2.2M289.3,492.9h-2.2M53.5,479.1h2.2M289.3,479.1h-2.2M53.5,469.3h2.2M289.3,469.3h-2.2M53.5,461.7h2.2M289.3,461.7h-2.2M53.5,455.4h2.2M289.3,455.4h-2.2M53.5,450.2h2.2M289.3,450.2h-2.2M53.5,445.6h2.2M289.3,445.6h-2.2M53.5,441.6h2.2M289.3,441.6h-2.2M53.5,516.6h3.5M289.3,516.6h-3.5M53.5,414.3h2.2M289.3,414.3h-2.2M53.5,400.5h2.2M289.3,400.5h-2.2M53.5,390.7h2.2M289.3,390.7h-2.2M53.5,383.1h2.2M289.3,383.1h-2.2M53.5,376.8h2.2M289.3,376.8h-2.2M53.5,371.6h2.2M289.3,371.6h-2.2M53.5,367.0h2.2M289.3,367.0h-2.2M53.5,363.0h2.2M289.3,363.0h-2.2M53.5,438.0h3.5M289.3,438.0h-3.5" stroke="#777" stroke-width="0.8" fill="none"/><path d="M374.4,571.6h2.2M614.4,571.6h-2.2M374.4,557.7h2.2M614.4,557.7h-2.2M374.4,547.9h2.2M614.4,547.9h-2.2M374.4,540.3h2.2M614.4,540.3h-2.2M374.4,534.1h2.2M614.4,534.1h-2.2M374.4,528.8h2.2M614.4,528.8h-2.2M374.4,524.3h2.2M614.4,524.3h-2.2M374.4,520.3h2.2M614.4,520.3h-2.2M374.4,493.0h2.2M614.4,493.0h-2.2M374.4,479.2h2.2M614.4,479.2h-2.2M374.4,469.4h2.2M614.4,469.4h-2.2M374.4,461.8h2.2M614.4,461.8h-2.2M374.4,455.6h2.2M614.4,455.6h-2.2M374.4,450.3h2.2M614.4,450.3h-2.2M374.4,445.7h2.2M614.4,445.7h-2.2M374.4,441.7h2.2M614.4,441.7h-2.2M374.4,516.7h3.5M614.4,516.7h-3.5M374.4,414.5h2.2M614.4,414.5h-2.2M374.4,400.7h2.2M614.4,400.7h-2.2M374.4,390.9h2.2M614.4,390.9h-2.2M374.4,383.2h2.2M614.4,383.2h-2.2M374.4,377.0h2.2M614.4,377.0h-2.2M374.4,371.8h2.2M614.4,371.8h-2.2M374.4,367.2h2.2M614.4,367.2h-2.2M374.4,363.2h2.2M614.4,363.2h-2.2M374.4,438.1h3.5M614.4,438.1h-3.5" stroke="#777" stroke-width="0.8" fill="none"/><path d="M171.4,359.4v2.5M171.4,595.2v-2.5M494.4,359.6v2.5M494.4,595.2v-2.5" stroke="#777" stroke-width="0.8"/><defs><linearGradient id="cbg" x1="0" y1="1" x2="0" y2="0"><stop offset="0.0000" stop-color="#202a64"/><stop offset="0.0278" stop-color="#222f6d"/><stop offset="0.0556" stop-color="#243476"/><stop offset="0.0833" stop-color="#26397e"/><stop offset="0.1111" stop-color="#283e87"/><stop offset="0.1389" stop-color="#2c468e"/><stop offset="0.1667" stop-color="#304d96"/><stop offset="0.1944" stop-color="#33549e"/><stop offset="0.2222" stop-color="#375ca5"/><stop offset="0.2500" stop-color="#4172b6"/><stop offset="0.2778" stop-color="#4b87c6"/><stop offset="0.3056" stop-color="#5ca0d2"/><stop offset="0.3333" stop-color="#6eb9de"/><stop offset="0.3611" stop-color="#78bed5"/><stop offset="0.3889" stop-color="#7dc1ca"/><stop offset="0.4167" stop-color="#7abebd"/><stop offset="0.4444" stop-color="#7abdad"/><stop offset="0.4722" stop-color="#7cbe9a"/><stop offset="0.5000" stop-color="#82c088"/><stop offset="0.5278" stop-color="#8cc376"/><stop offset="0.5556" stop-color="#9ec866"/><stop offset="0.5833" stop-color="#afcd55"/><stop offset="0.6111" stop-color="#c3d448"/><stop offset="0.6389" stop-color="#dbde45"/><stop offset="0.6667" stop-color="#f0e646"/><stop offset="0.6944" stop-color="#edbe3c"/><stop offset="0.7222" stop-color="#e89e36"/><stop offset="0.7500" stop-color="#e48433"/><stop offset="0.7778" stop-color="#dd6d31"/><stop offset="0.8056" stop-color="#d5572f"/><stop offset="0.8333" stop-color="#cd412d"/><stop offset="0.8611" stop-color="#c8362d"/><stop offset="0.8889" stop-color="#c32a2d"/><stop offset="0.9167" stop-color="#b2252a"/><stop offset="0.9444" stop-color="#a02028"/><stop offset="0.9722" stop-color="#8d2028"/><stop offset="1.0000" stop-color="#7a2028"/></linearGradient></defs><rect x="644.6" y="33" width="14.8" height="234.6" fill="url(#cbg)" stroke="#aaa" stroke-width="0.6"/><rect x="644.6" y="267.6" width="14.8" height="10.6" fill="#fff" stroke="#aaa" stroke-width="0.8"/><path d="M651.5,285.8 C653.2,283.3 654.8,282.2 656.6,282.2 C659.2,282.2 660.8,283.8 660.8,285.8 C660.8,287.8 659.2,289.4 656.6,289.4 C654.8,289.4 653.2,288.3 651.5,285.8 C649.8,283.3 648.2,282.2 646.4,282.2 C643.8,282.2 642.2,283.8 642.2,285.8 C642.2,287.8 643.8,289.4 646.4,289.4 C648.2,289.4 649.8,288.3 651.5,285.8Z" fill="none" stroke="#000" stroke-width="2"/><path d="M644.6,111.3h2M659.4,111.3h-2M644.6,189.7h2M659.4,189.7h-2" stroke="#555" stroke-width="0.8"/><circle cx="51.5" cy="61.6" r="8.1" fill="none" stroke="#801c3e" stroke-width="2"/><circle cx="261.5" cy="62.2" r="8.5" fill="none" stroke="#fff" stroke-width="2"/><defs><clipPath id="cc"><rect x="54" y="359.9" width="234.8" height="234.8"/></clipPath><clipPath id="cd"><rect x="374.9" y="360.1" width="239" height="234.6"/></clipPath></defs><g clip-path="url(#cc)" fill="none" stroke-width="5.8" stroke-linecap="butt" stroke-linejoin="round"><path d="M69.0,598.2 L69.0,595.6 L69.1,592.9 L69.3,590.3 L69.5,587.8 L69.8,585.3 L70.1,582.8 L70.5,580.3 L70.9,577.8 L71.4,575.4 L71.9,573.0 L72.5,570.7 L73.1,568.3 L73.8,566.0 L74.5,563.7 L75.3,561.5 L76.1,559.2 L77.0,557.0 L77.9,554.8 L78.9,552.6 L79.8,550.4 L80.9,548.3 L82.0,546.2 L83.1,544.0 L84.2,541.9 L85.4,539.8 L86.7,537.8 L87.9,535.7 L89.2,533.7 L90.6,531.6 L91.9,529.6 L93.4,527.6 L94.8,525.5 L96.3,523.5 L97.8,521.6 L99.3,519.6 L100.8,517.6 L102.4,515.7 L104.1,513.7 L105.7,511.8 L107.4,509.9 L109.1,508.1 L110.8,506.2 L112.6,504.4 L114.4,502.6 L116.2,500.8 L118.1,499.0 L119.9,497.3 L121.8,495.6 L123.7,493.9 L125.7,492.3 L127.7,490.7 L129.7,489.2 L131.7,487.7 L133.7,486.3 L135.8,484.9 L137.9,483.6 L140.0,482.4 L142.1,481.2 L144.2,480.1 L146.4,479.0 L148.6,478.0 L150.8,477.1 L153.0,476.2 L155.3,475.4 L157.5,474.7 L159.8,474.0 L162.1,473.3 L164.4,472.7 L166.7,472.2 L169.1,471.7 L171.4,471.3 L173.8,470.9 L176.2,470.5 L178.5,470.2 L181.0,469.9 L183.4,469.7 L185.8,469.5 L188.2,469.3 L190.7,469.2 L193.1,469.1 L195.6,469.0 L198.0,469.0 L200.5,469.0 L203.0,469.0 L205.5,469.1 L208.0,469.1 L210.5,469.2 L213.0,469.4 L215.5,469.5 L218.0,469.7 L220.5,469.8 L223.0,470.0 L225.5,470.2 L228.1,470.4 L230.6,470.7 L233.1,470.9 L235.6,471.1 L238.1,471.4 L240.6,471.6 L243.1,471.9 L245.7,472.1 L248.2,472.4 L250.7,472.6 L253.2,472.9 L255.6,473.1 L258.1,473.4 L260.6,473.6 L263.1,473.8 L265.6,474.0 L268.0,474.2 L270.5,474.4 L272.9,474.6 L275.3,474.7 L277.7,474.9 L280.2,475.0 L282.6,475.1 L284.9,475.1 L287.3,475.2 L289.7,475.2" stroke="#7b4a9c"/><path d="M58.5,597.7 L59.2,595.3 L59.7,592.8 L60.1,590.2 L60.4,587.5 L60.7,584.7 L60.9,581.9 L61.0,579.0 L61.2,576.0 L61.3,573.0 L61.4,570.0 L61.5,567.0 L61.7,564.0 L61.9,561.0 L62.2,558.0 L62.6,555.1 L63.0,552.2 L63.6,549.4 L64.3,546.6 L65.2,544.0 L66.2,541.4 L67.4,539.0 L68.7,536.6 L70.2,534.4 L71.8,532.2 L73.6,530.1 L75.4,528.1 L77.4,526.2 L79.4,524.3 L81.5,522.4 L83.7,520.7 L85.9,518.9 L88.1,517.2 L90.4,515.5 L92.8,513.8 L95.1,512.2 L97.5,510.6 L99.9,509.0 L102.3,507.3 L104.6,505.7 L107.0,504.1 L109.4,502.5 L111.8,500.9 L114.1,499.2 L116.4,497.5 L118.7,495.8 L120.9,494.1 L123.1,492.3 L125.3,490.4 L127.4,488.6 L129.4,486.6 L131.3,484.7 L133.2,482.6 L135.0,480.5 L136.7,478.3 L138.3,476.1 L139.8,473.7 L141.2,471.3 L142.6,468.8 L143.8,466.2 L144.9,463.5 L145.9,460.8 L147.0,458.0 L147.9,455.3 L148.9,452.5 L149.9,449.8 L151.0,447.2 L152.1,444.6 L153.3,442.1 L154.6,439.7 L156.0,437.8 L157.5,438.5 L159.2,441.1 L161.1,443.8 L163.2,445.7 L165.4,446.6 L167.9,446.8 L170.5,446.4 L173.1,445.8 L175.9,445.0 L178.7,444.4 L181.6,443.9 L184.5,443.5 L187.5,443.3 L190.4,443.1 L193.4,442.9 L196.3,442.8 L199.2,442.7 L202.1,442.5 L205.0,442.4 L207.8,442.3 L210.7,442.2 L213.5,442.1 L216.4,442.0 L219.2,441.9 L222.0,441.9 L224.8,441.8 L227.6,441.7 L230.4,441.7 L233.1,441.6 L235.9,441.6 L238.7,441.5 L241.5,441.5 L244.3,441.5 L247.0,441.5 L249.8,441.4 L252.6,441.4 L255.4,441.4 L258.2,441.4 L261.0,441.4 L263.8,441.5 L266.7,441.5 L269.5,441.5 L272.3,441.5 L275.2,441.6 L278.1,441.6 L281.0,441.7 L283.9,441.8 L286.9,441.8 L289.8,441.9" stroke="#c9282d"/><path d="M54.6,591.0 L54.6,588.1 L54.5,585.2 L54.5,582.3 L54.5,579.3 L54.5,576.3 L54.5,573.2 L54.5,570.2 L54.5,567.1 L54.5,563.9 L54.6,560.8 L54.6,557.6 L54.7,554.4 L54.8,551.2 L54.9,548.0 L55.1,544.7 L55.2,541.5 L55.4,538.2 L55.6,534.9 L55.9,531.7 L56.1,528.4 L56.4,525.1 L56.8,521.8 L57.1,518.5 L57.5,515.2 L58.0,511.9 L58.4,508.7 L58.9,505.4 L59.5,502.1 L60.1,498.9 L60.7,495.7 L61.4,492.5 L62.1,489.3 L62.8,486.1 L63.6,482.9 L64.5,479.8 L65.4,476.7 L66.4,473.6 L67.4,470.5 L68.4,467.5 L69.6,464.5 L70.7,461.6 L72.0,458.7 L73.3,455.8 L74.6,453.0 L76.1,450.2 L77.5,447.4 L79.1,444.7 L80.7,442.0 L82.4,439.4 L84.1,436.9 L86.0,434.4 L87.9,431.9 L89.8,429.5 L91.9,427.2 L94.0,424.9 L96.2,422.7 L98.5,420.6 L100.8,418.5 L103.3,416.5 L105.8,414.6 L108.3,412.7 L111.0,411.0 L113.7,409.3 L116.4,407.7 L119.2,406.3 L122.0,404.9 L124.9,403.6 L127.9,402.5 L130.8,401.5 L133.8,400.5 L136.9,399.7 L140.0,399.1 L143.1,398.5 L146.2,398.2 L149.3,397.9 L152.5,397.8 L155.7,397.8 L158.8,398.0 L162.0,398.3 L165.2,398.8 L168.4,399.3 L171.6,399.9 L174.9,400.6 L178.1,401.4 L181.3,402.1 L184.6,402.9 L187.8,403.7 L191.0,404.5 L194.3,405.2 L197.5,405.9 L200.8,406.6 L204.0,407.2 L207.3,407.7 L210.5,408.2 L213.8,408.7 L217.0,409.1 L220.2,409.4 L223.5,409.8 L226.7,410.1 L229.9,410.3 L233.1,410.6 L236.3,410.8 L239.5,411.0 L242.7,411.2 L245.9,411.3 L249.1,411.5 L252.3,411.7 L255.4,411.8 L258.5,412.0 L261.7,412.1 L264.8,412.3 L267.9,412.5 L271.0,412.7 L274.0,413.0 L277.1,413.3 L280.1,413.6 L283.1,413.9 L286.2,414.3 L289.1,414.7" stroke="#76c3cb"/><line x1="156" y1="359.4" x2="156" y2="595" stroke="#444" stroke-width="1.5" stroke-dasharray="6.4,7.06" stroke-dashoffset="1.5"/><path d="M53.5,437.5 L54.6,435.9 L55.8,434.2 L57.2,432.5 L58.6,430.8 L60.1,429.0 L61.7,427.2 L63.4,425.5 L65.2,423.7 L67.0,421.9 L69.0,420.1 L71.0,418.4 L73.0,416.7 L75.1,415.1 L77.3,413.5 L79.6,412.0 L81.8,410.5 L84.2,409.1 L86.5,407.8 L88.9,406.6 L91.3,405.5 L93.7,404.5 L96.1,403.7 L98.5,402.9 L100.8,402.3 L103.2,401.9 L105.5,401.6 L107.8,401.4 L110.1,401.5 L112.3,401.7 L114.5,402.1 L116.6,402.6 L118.7,403.3 L120.7,404.2 L122.6,405.2 L124.5,406.3 L126.4,407.6 L128.1,409.0 L129.9,410.5 L131.6,412.1 L133.2,413.8 L134.7,415.6 L136.2,417.5 L137.7,419.5 L139.1,421.5 L140.4,423.6 L141.7,425.8 L142.9,427.9 L144.0,430.2 L145.1,432.4 L146.1,434.7 L147.1,437.0 L147.9,439.3 L148.8,441.6 L149.6,443.9 L150.3,446.2 L151.0,448.6 L151.6,450.9 L152.2,453.2 L152.7,455.6 L153.2,458.0 L153.7,460.3 L154.1,462.7 L154.5,465.1 L154.9,467.5 L155.3,469.8 L155.6,472.2 L155.9,474.6 L156.2,477.0 L156.5,479.5 L156.8,481.9 L157.1,484.3 L157.4,486.7 L157.7,489.1 L158.0,491.5 L158.3,494.0 L158.7,496.4 L159.0,498.8 L159.3,501.3 L159.7,503.7 L160.1,506.2 L160.5,508.6 L161.0,511.0 L161.4,513.5 L161.8,515.9 L162.3,518.4 L162.8,520.8 L163.3,523.2 L163.8,525.7 L164.3,528.1 L164.8,530.6 L165.3,533.0 L165.8,535.4 L166.3,537.9 L166.8,540.3 L167.3,542.7 L167.8,545.2 L168.3,547.6 L168.9,550.0 L169.4,552.4 L169.9,554.8 L170.3,557.2 L170.8,559.6 L171.3,562.0 L171.8,564.4 L172.2,566.8 L172.6,569.2 L173.1,571.6 L173.5,573.9 L173.9,576.3 L174.2,578.7 L174.6,581.0 L174.9,583.4 L175.2,585.7 L175.5,588.0 L175.8,590.4 L176.0,592.7 L176.3,595.0 L176.4,597.3 L176.6,599.6" stroke="#2c4899"/></g><text x="69.24" y="394.70" font-size="24.50" textLength="14.21" lengthAdjust="spacingAndGlyphs" font-weight="bold" fill="#2c4899" stroke="#2c4899" stroke-width="0.7">F</text><text x="105.62" y="438.00" font-size="24.50" textLength="15.46" lengthAdjust="spacingAndGlyphs" font-weight="bold" fill="#76c3cb" stroke="#76c3cb" stroke-width="0.7">C</text><text x="75.05" y="506.00" font-size="24.50" textLength="18.92" lengthAdjust="spacingAndGlyphs" font-weight="bold" fill="#c9282d" stroke="#c9282d" stroke-width="0.7">N</text><text x="130.44" y="518.60" font-size="24.50" textLength="15.78" lengthAdjust="spacingAndGlyphs" font-weight="bold" fill="#7b4a9c" stroke="#7b4a9c" stroke-width="0.7">D</text><g clip-path="url(#cd)" fill="none" stroke-width="5.8" stroke-linejoin="round"><path d="M388.7,601.2 L389.2,598.7 L389.7,596.3 L390.2,593.8 L390.8,591.4 L391.3,589.0 L391.9,586.6 L392.5,584.2 L393.2,581.8 L393.8,579.4 L394.5,577.0 L395.2,574.7 L395.9,572.3 L396.6,570.0 L397.4,567.7 L398.2,565.3 L399.0,563.0 L399.8,560.7 L400.7,558.4 L401.5,556.2 L402.4,553.9 L403.3,551.6 L404.2,549.4 L405.1,547.1 L406.1,544.9 L407.1,542.7 L408.1,540.5 L409.1,538.3 L410.1,536.1 L411.1,533.9 L412.2,531.7 L413.3,529.5 L414.4,527.3 L415.5,525.2 L416.6,523.0 L417.7,520.9 L418.9,518.8 L420.0,516.6 L421.2,514.5 L422.4,512.4 L423.6,510.3 L424.8,508.2 L426.1,506.1 L427.3,504.0 L428.6,501.9 L429.9,499.9 L431.1,497.8 L432.4,495.8 L433.8,493.7 L435.1,491.7 L436.4,489.6 L437.8,487.6 L439.1,485.6 L440.5,483.5 L441.9,481.5 L443.3,479.5 L444.7,477.5 L446.1,475.5 L447.5,473.5 L448.9,471.5 L450.3,469.6 L451.8,467.6 L453.2,465.6 L454.7,463.7 L456.2,461.7 L457.6,459.7 L459.1,457.8 L460.6,455.8 L462.1,453.9 L463.6,451.9 L465.1,450.0 L466.6,448.1 L468.2,446.2 L469.7,444.2 L471.2,442.3 L472.8,440.4 L474.3,438.5 L475.8,436.6 L477.4,434.7 L479.0,432.8 L480.5,430.9 L482.1,429.0 L483.6,427.1 L485.2,425.2 L486.8,423.3 L488.4,421.4 L489.9,419.5 L491.5,417.6 L493.1,415.8 L494.7,413.9 L496.2,412.0 L497.8,410.1 L499.4,408.3 L501.0,406.4 L502.6,404.5 L504.2,402.7 L505.7,400.8 L507.3,398.9 L508.9,397.1 L510.5,395.2 L512.1,393.4 L513.7,391.5 L515.2,389.6 L516.8,387.8 L518.4,385.9 L519.9,384.1 L521.5,382.2 L523.1,380.4 L524.6,378.5 L526.2,376.6 L527.7,374.8 L529.3,372.9 L530.8,371.1 L532.4,369.2 L533.9,367.4 L535.4,365.5 L536.9,363.6 L538.5,361.8 L540.0,359.9 L541.5,358.1" stroke="#7b4a9c"/><path d="M376.9,590.9 L376.8,588.8 L376.6,586.6 L376.5,584.4 L376.3,582.2 L376.2,580.0 L376.1,577.9 L376.0,575.7 L375.9,573.5 L375.9,571.3 L375.8,569.2 L375.8,567.0 L375.8,564.8 L375.8,562.6 L375.8,560.4 L375.8,558.3 L375.9,556.1 L375.9,553.9 L376.0,551.8 L376.1,549.6 L376.2,547.4 L376.3,545.3 L376.4,543.1 L376.6,540.9 L376.7,538.8 L376.9,536.6 L377.1,534.5 L377.3,532.3 L377.5,530.2 L377.7,528.0 L378.0,525.9 L378.3,523.7 L378.5,521.6 L378.8,519.5 L379.1,517.3 L379.5,515.2 L379.8,513.1 L380.2,511.0 L380.5,508.8 L380.9,506.7 L381.3,504.6 L381.7,502.5 L382.2,500.4 L382.6,498.3 L383.1,496.2 L383.5,494.1 L384.0,492.0 L384.5,489.9 L385.1,487.8 L385.6,485.8 L386.2,483.7 L386.7,481.6 L387.3,479.6 L387.9,477.5 L388.5,475.5 L389.2,473.4 L389.8,471.4 L390.5,469.4 L391.2,467.3 L391.9,465.3 L392.6,463.3 L393.3,461.3 L394.0,459.3 L394.8,457.3 L395.6,455.3 L396.4,453.3 L397.2,451.3 L398.0,449.3 L398.9,447.4 L399.7,445.4 L400.6,443.4 L401.5,441.5 L402.4,439.5 L403.3,437.6 L404.2,435.7 L405.2,433.8 L406.1,431.8 L407.1,429.9 L408.1,428.0 L409.1,426.1 L410.2,424.3 L411.2,422.4 L412.3,420.5 L413.3,418.7 L414.4,416.8 L415.5,415.0 L416.7,413.1 L417.8,411.3 L418.9,409.5 L420.1,407.7 L421.3,405.9 L422.5,404.1 L423.7,402.3 L424.9,400.5 L426.2,398.8 L427.4,397.0 L428.7,395.3 L430.0,393.5 L431.3,391.8 L432.6,390.1 L433.9,388.4 L435.3,386.7 L436.6,385.0 L438.0,383.3 L439.4,381.6 L440.8,380.0 L442.2,378.3 L443.7,376.7 L445.1,375.1 L446.6,373.4 L448.0,371.8 L449.5,370.2 L451.0,368.7 L452.6,367.1 L454.1,365.5 L455.6,364.0 L457.2,362.4 L458.8,360.9 L460.4,359.4 L462.0,357.9" stroke="#76c3cb"/><path d="M374.4,436.5 L440,358.3" stroke="#2c4899"/></g><path d="M436.8,595.6 C438.5,592.5 442,591 450,590 C460,589.3 480,589.1 614.4,588.9 L614.4,595.6 Z" fill="#c9282d"/><g style="filter:grayscale(1)" stroke="#000" stroke-width="0.25"><text x="55.83" y="16.60" font-size="19.60" textLength="228.53" lengthAdjust="spacingAndGlyphs" fill="#000">(a) Time for clearance [h]</text><text x="391.44" y="16.60" font-size="19.60" textLength="226.30" lengthAdjust="spacingAndGlyphs" fill="#000">(b) Time for clearance [h]</text><path transform="translate(275.86,342.80) scale(0.00995,-0.00947)" d="M492,0V1215L190,1005V1170L525,1409H705V0Z" fill="#000"/><text x="45.94" y="342.80" font-size="19.40" textLength="252.59" lengthAdjust="spacingAndGlyphs" fill="#000">(c) 90% Nv reduction at 2 h</text><text x="370.41" y="342.80" font-size="19.40" textLength="248.05" lengthAdjust="spacingAndGlyphs" fill="#000">(d) 90% Nv reduction at 0h</text><text x="62.35" y="307.50" font-size="19.80" textLength="227.68" lengthAdjust="spacingAndGlyphs" fill="#000">Timing of Nv depletion [h]</text><text x="371.15" y="307.20" font-size="19.80" textLength="242.19" lengthAdjust="spacingAndGlyphs" fill="#000">Timing of TNF blockade [h]</text><text x="137.84" y="634.80" font-size="19.60" textLength="67.81" lengthAdjust="spacingAndGlyphs" fill="#000">Time[h]</text><text x="460.44" y="634.80" font-size="19.60" textLength="68.32" lengthAdjust="spacingAndGlyphs" fill="#000">Time[h]</text><text transform="translate(15.50,0) rotate(-90)" x="-209.32" y="0" font-size="19.60" textLength="105.02" lengthAdjust="spacingAndGlyphs" fill="#000">% depletion</text><text transform="translate(335.00,0) rotate(-90)" x="-241.20" y="0" font-size="19.60" textLength="182.69" lengthAdjust="spacingAndGlyphs" fill="#000">Strength of blockade</text><path transform="translate(15.30,40.80) scale(0.01016,-0.00977)" d="M492,0V1215L190,1005V1170L525,1409H705V0Z" fill="#000"/><text x="15.30" y="40.80" font-size="20.00" textLength="34.71" lengthAdjust="spacingAndGlyphs" fill="#000"> 00</text><text x="26.88" y="156.70" font-size="20.00" textLength="22.82" lengthAdjust="spacingAndGlyphs" fill="#000">50</text><text x="38.10" y="275.30" font-size="20.00" textLength="11.40" lengthAdjust="spacingAndGlyphs" fill="#000">0</text><text x="45.97" y="289.20" font-size="20.00" textLength="11.75" lengthAdjust="spacingAndGlyphs" fill="#000">0</text><path transform="translate(156.41,289.20) scale(0.01062,-0.00977)" d="M492,0V1215L190,1005V1170L525,1409H705V0Z" fill="#000"/><text x="156.41" y="289.20" font-size="20.00" textLength="24.19" lengthAdjust="spacingAndGlyphs" fill="#000"> 2</text><text x="275.98" y="289.20" font-size="20.00" textLength="22.62" lengthAdjust="spacingAndGlyphs" fill="#000">24</text><text x="359.04" y="40.80" font-size="20.00" textLength="11.96" lengthAdjust="spacingAndGlyphs" fill="#000">5</text><text x="341.68" y="157.10" font-size="20.00" textLength="28.28" lengthAdjust="spacingAndGlyphs" fill="#000">2.5</text><path transform="translate(358.49,275.10) scale(0.01222,-0.00977)" d="M492,0V1215L190,1005V1170L525,1409H705V0Z" fill="#000"/><text x="358.49" y="275.10" font-size="20.00" textLength="13.92" lengthAdjust="spacingAndGlyphs" fill="#000"> </text><text x="366.98" y="289.00" font-size="20.00" textLength="11.63" lengthAdjust="spacingAndGlyphs" fill="#000">0</text><path transform="translate(477.41,289.00) scale(0.01062,-0.00977)" d="M492,0V1215L190,1005V1170L525,1409H705V0Z" fill="#000"/><text x="477.41" y="289.00" font-size="20.00" textLength="24.19" lengthAdjust="spacingAndGlyphs" fill="#000"> 2</text><text x="596.33" y="288.90" font-size="20.00" textLength="21.54" lengthAdjust="spacingAndGlyphs" fill="#000">24</text><text x="660.72" y="40.90" font-size="20.00" textLength="23.33" lengthAdjust="spacingAndGlyphs" fill="#000">72</text><text x="661.22" y="118.80" font-size="20.00" textLength="23.08" lengthAdjust="spacingAndGlyphs" fill="#000">48</text><text x="660.98" y="196.90" font-size="20.00" textLength="22.62" lengthAdjust="spacingAndGlyphs" fill="#000">24</text><text x="660.97" y="275.60" font-size="20.00" textLength="11.87" lengthAdjust="spacingAndGlyphs" fill="#000">0</text><path transform="translate(20.88,366.90) scale(0.01024,-0.00977)" d="M492,0V1215L190,1005V1170L525,1409H705V0Z" fill="#000"/><text x="20.88" y="366.90" font-size="20.00" textLength="23.34" lengthAdjust="spacingAndGlyphs" fill="#000"> 0</text><text x="43.53" y="354.10" font-size="13.00" textLength="8.32" lengthAdjust="spacingAndGlyphs" fill="#000">7</text><path transform="translate(341.07,366.90) scale(0.01029,-0.00977)" d="M492,0V1215L190,1005V1170L525,1409H705V0Z" fill="#000"/><text x="341.07" y="366.90" font-size="20.00" textLength="23.45" lengthAdjust="spacingAndGlyphs" fill="#000"> 0</text><text x="364.26" y="354.10" font-size="13.00" textLength="8.07" lengthAdjust="spacingAndGlyphs" fill="#000">7</text><path transform="translate(20.88,445.50) scale(0.01024,-0.00977)" d="M492,0V1215L190,1005V1170L525,1409H705V0Z" fill="#000"/><text x="20.88" y="445.50" font-size="20.00" textLength="23.34" lengthAdjust="spacingAndGlyphs" fill="#000"> 0</text><text x="43.55" y="432.70" font-size="13.00" textLength="8.20" lengthAdjust="spacingAndGlyphs" fill="#000">6</text><path transform="translate(341.07,445.50) scale(0.01029,-0.00977)" d="M492,0V1215L190,1005V1170L525,1409H705V0Z" fill="#000"/><text x="341.07" y="445.50" font-size="20.00" textLength="23.45" lengthAdjust="spacingAndGlyphs" fill="#000"> 0</text><text x="364.27" y="432.70" font-size="13.00" textLength="7.95" lengthAdjust="spacingAndGlyphs" fill="#000">6</text><path transform="translate(20.88,524.10) scale(0.01024,-0.00977)" d="M492,0V1215L190,1005V1170L525,1409H705V0Z" fill="#000"/><text x="20.88" y="524.10" font-size="20.00" textLength="23.34" lengthAdjust="spacingAndGlyphs" fill="#000"> 0</text><text x="43.73" y="511.30" font-size="13.00" textLength="7.98" lengthAdjust="spacingAndGlyphs" fill="#000">5</text><path transform="translate(341.07,524.10) scale(0.01029,-0.00977)" d="M492,0V1215L190,1005V1170L525,1409H705V0Z" fill="#000"/><text x="341.07" y="524.10" font-size="20.00" textLength="23.45" lengthAdjust="spacingAndGlyphs" fill="#000"> 0</text><text x="364.44" y="511.30" font-size="13.00" textLength="7.74" lengthAdjust="spacingAndGlyphs" fill="#000">5</text><path transform="translate(20.88,602.70) scale(0.01024,-0.00977)" d="M492,0V1215L190,1005V1170L525,1409H705V0Z" fill="#000"/><text x="20.88" y="602.70" font-size="20.00" textLength="23.34" lengthAdjust="spacingAndGlyphs" fill="#000"> 0</text><text x="43.99" y="589.90" font-size="13.00" textLength="7.51" lengthAdjust="spacingAndGlyphs" fill="#000">4</text><path transform="translate(341.07,602.70) scale(0.01029,-0.00977)" d="M492,0V1215L190,1005V1170L525,1409H705V0Z" fill="#000"/><text x="341.07" y="602.70" font-size="20.00" textLength="23.45" lengthAdjust="spacingAndGlyphs" fill="#000"> 0</text><text x="364.70" y="589.90" font-size="13.00" textLength="7.28" lengthAdjust="spacingAndGlyphs" fill="#000">4</text><text x="47.34" y="616.50" font-size="20.00" textLength="12.22" lengthAdjust="spacingAndGlyphs" fill="#000">0</text><path transform="translate(155.75,613.80) scale(0.01057,-0.00977)" d="M492,0V1215L190,1005V1170L525,1409H705V0Z" fill="#000"/><text x="143.71" y="613.80" font-size="20.00" textLength="24.07" lengthAdjust="spacingAndGlyphs" fill="#000">2 </text><text x="278.33" y="616.50" font-size="20.00" textLength="22.87" lengthAdjust="spacingAndGlyphs" fill="#000">48</text><text x="368.22" y="616.50" font-size="20.00" textLength="11.17" lengthAdjust="spacingAndGlyphs" fill="#000">0</text><text x="482.36" y="616.50" font-size="20.00" textLength="23.05" lengthAdjust="spacingAndGlyphs" fill="#000">24</text><text x="603.53" y="616.50" font-size="20.00" textLength="22.55" lengthAdjust="spacingAndGlyphs" fill="#000">48</text></g></svg>
</div></body></html>
